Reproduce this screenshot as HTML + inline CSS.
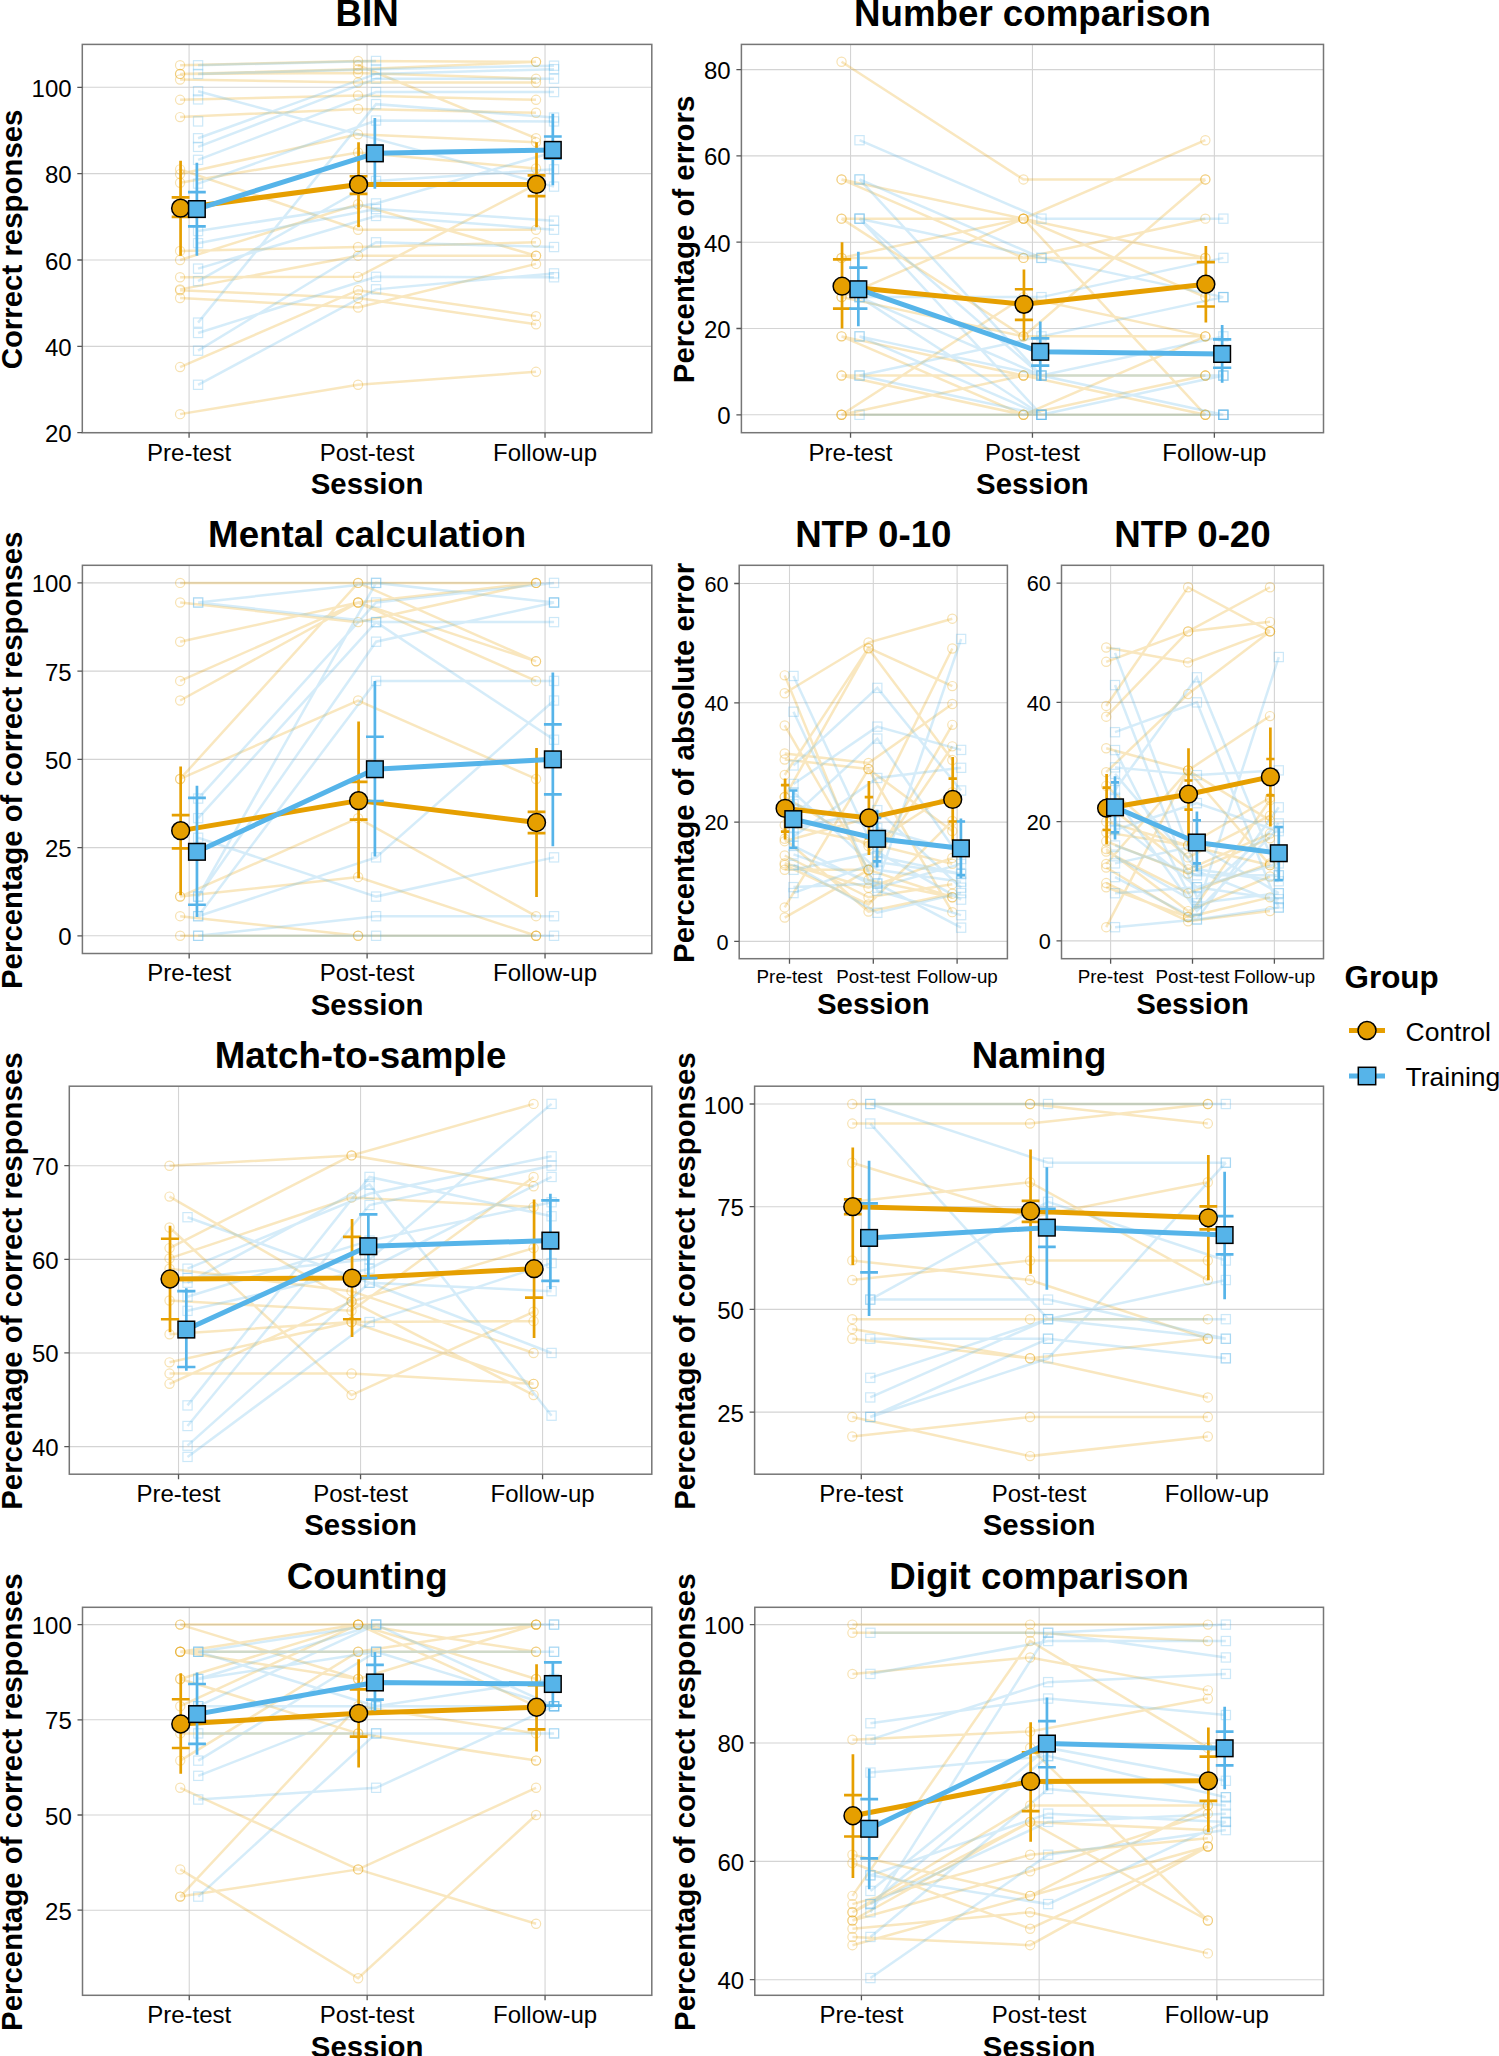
<!DOCTYPE html>
<html><head><meta charset="utf-8"><style>
html,body{margin:0;padding:0;background:#fff;width:1499px;height:2056px;overflow:hidden}
svg{display:block}
text{font-family:"Liberation Sans", sans-serif;fill:#000}
</style></head><body>
<svg width="1499" height="2056" viewBox="0 0 1499 2056">
<rect width="1499" height="2056" fill="#fff"/>
<path d="M82.3 432.7H651.8M82.3 346.35H651.8M82.3 260H651.8M82.3 173.65H651.8M82.3 87.3H651.8M189.08 44.4V432.7M367.05 44.4V432.7M545.02 44.4V432.7" stroke="#D4D4D4" stroke-width="1.1" fill="none"/>
<path d="M180.08 414.13L358.05 384.78L536.02 371.82M180.08 367.07L358.05 290.22L536.02 316.13M180.08 297.99L358.05 307.49L536.02 263.89M180.08 290.22L358.05 297.99L536.02 324.33M180.08 289.36L358.05 255.68L536.02 255.68M180.08 277.27L358.05 276.84L536.02 184.44M180.08 260L358.05 204.3L536.02 255.68M180.08 250.93L358.05 247.05L536.02 242.3M180.08 182.72L358.05 152.49L536.02 168.47M180.08 174.08L358.05 134.36L536.02 142.13M180.08 169.33L358.05 229.78L536.02 229.78M180.08 117.09L358.05 108.89L536.02 112.77M180.08 99.82L358.05 95.5L536.02 99.82M180.08 79.53L358.05 82.55L536.02 82.55M180.08 73.92L358.05 73.05L536.02 78.66M180.08 73.92L358.05 69.17L536.02 61.83M180.08 65.28L358.05 60.96L536.02 61.83M358.05 65.28L536.02 138.25" stroke="#E69F00" stroke-opacity="0.25" stroke-width="2.5" fill="none"/>
<g fill="none" stroke="#E69F00" stroke-opacity="0.3" stroke-width="1.2"><circle cx="180.08" cy="414.13" r="4.6"/><circle cx="358.05" cy="384.78" r="4.6"/><circle cx="536.02" cy="371.82" r="4.6"/><circle cx="180.08" cy="367.07" r="4.6"/><circle cx="358.05" cy="290.22" r="4.6"/><circle cx="536.02" cy="316.13" r="4.6"/><circle cx="180.08" cy="297.99" r="4.6"/><circle cx="358.05" cy="307.49" r="4.6"/><circle cx="536.02" cy="263.89" r="4.6"/><circle cx="180.08" cy="290.22" r="4.6"/><circle cx="358.05" cy="297.99" r="4.6"/><circle cx="536.02" cy="324.33" r="4.6"/><circle cx="180.08" cy="289.36" r="4.6"/><circle cx="358.05" cy="255.68" r="4.6"/><circle cx="536.02" cy="255.68" r="4.6"/><circle cx="180.08" cy="277.27" r="4.6"/><circle cx="358.05" cy="276.84" r="4.6"/><circle cx="536.02" cy="184.44" r="4.6"/><circle cx="180.08" cy="260" r="4.6"/><circle cx="358.05" cy="204.3" r="4.6"/><circle cx="536.02" cy="255.68" r="4.6"/><circle cx="180.08" cy="250.93" r="4.6"/><circle cx="358.05" cy="247.05" r="4.6"/><circle cx="536.02" cy="242.3" r="4.6"/><circle cx="180.08" cy="182.72" r="4.6"/><circle cx="358.05" cy="152.49" r="4.6"/><circle cx="536.02" cy="168.47" r="4.6"/><circle cx="180.08" cy="174.08" r="4.6"/><circle cx="358.05" cy="134.36" r="4.6"/><circle cx="536.02" cy="142.13" r="4.6"/><circle cx="180.08" cy="169.33" r="4.6"/><circle cx="358.05" cy="229.78" r="4.6"/><circle cx="536.02" cy="229.78" r="4.6"/><circle cx="180.08" cy="117.09" r="4.6"/><circle cx="358.05" cy="108.89" r="4.6"/><circle cx="536.02" cy="112.77" r="4.6"/><circle cx="180.08" cy="99.82" r="4.6"/><circle cx="358.05" cy="95.5" r="4.6"/><circle cx="536.02" cy="99.82" r="4.6"/><circle cx="180.08" cy="79.53" r="4.6"/><circle cx="358.05" cy="82.55" r="4.6"/><circle cx="536.02" cy="82.55" r="4.6"/><circle cx="180.08" cy="73.92" r="4.6"/><circle cx="358.05" cy="73.05" r="4.6"/><circle cx="536.02" cy="78.66" r="4.6"/><circle cx="180.08" cy="73.92" r="4.6"/><circle cx="358.05" cy="69.17" r="4.6"/><circle cx="536.02" cy="61.83" r="4.6"/><circle cx="180.08" cy="65.28" r="4.6"/><circle cx="358.05" cy="60.96" r="4.6"/><circle cx="536.02" cy="61.83" r="4.6"/><circle cx="358.05" cy="65.28" r="4.6"/><circle cx="536.02" cy="138.25" r="4.6"/></g>
<path d="M198.08 384.78L376.05 289.36L554.02 273.38M198.08 350.67L376.05 242.3L554.02 247.05M198.08 332.97L376.05 276.84L554.02 277.27M198.08 322.6L376.05 104.14L554.02 117.52M198.08 281.16L376.05 180.99L554.02 169.33M198.08 268.63L376.05 215.96L554.02 229.78M198.08 243.16L376.05 209.05L554.02 220.71M198.08 231.07L376.05 203.44L554.02 152.06M198.08 183.58L376.05 120.54L554.02 121.41M198.08 159.83L376.05 92.05L554.02 92.05M198.08 146.88L376.05 78.66L554.02 78.66M198.08 138.25L376.05 73.92L554.02 69.17M198.08 91.19L554.02 186.6M198.08 73.92L376.05 69.17L554.02 65.71M198.08 65.28L376.05 60.96" stroke="#56B4E9" stroke-opacity="0.25" stroke-width="2.5" fill="none"/>
<g fill="none" stroke="#56B4E9" stroke-opacity="0.3" stroke-width="1.2"><rect x="193.48" y="380.18" width="9.2" height="9.2"/><rect x="371.45" y="284.76" width="9.2" height="9.2"/><rect x="549.42" y="268.78" width="9.2" height="9.2"/><rect x="193.48" y="346.07" width="9.2" height="9.2"/><rect x="371.45" y="237.7" width="9.2" height="9.2"/><rect x="549.42" y="242.45" width="9.2" height="9.2"/><rect x="193.48" y="328.37" width="9.2" height="9.2"/><rect x="371.45" y="272.24" width="9.2" height="9.2"/><rect x="549.42" y="272.67" width="9.2" height="9.2"/><rect x="193.48" y="318" width="9.2" height="9.2"/><rect x="371.45" y="99.54" width="9.2" height="9.2"/><rect x="549.42" y="112.92" width="9.2" height="9.2"/><rect x="193.48" y="276.56" width="9.2" height="9.2"/><rect x="371.45" y="176.39" width="9.2" height="9.2"/><rect x="549.42" y="164.73" width="9.2" height="9.2"/><rect x="193.48" y="264.03" width="9.2" height="9.2"/><rect x="371.45" y="211.36" width="9.2" height="9.2"/><rect x="549.42" y="225.18" width="9.2" height="9.2"/><rect x="193.48" y="238.56" width="9.2" height="9.2"/><rect x="371.45" y="204.45" width="9.2" height="9.2"/><rect x="549.42" y="216.11" width="9.2" height="9.2"/><rect x="193.48" y="226.47" width="9.2" height="9.2"/><rect x="371.45" y="198.84" width="9.2" height="9.2"/><rect x="549.42" y="147.46" width="9.2" height="9.2"/><rect x="193.48" y="178.98" width="9.2" height="9.2"/><rect x="371.45" y="115.94" width="9.2" height="9.2"/><rect x="549.42" y="116.81" width="9.2" height="9.2"/><rect x="193.48" y="155.23" width="9.2" height="9.2"/><rect x="371.45" y="87.45" width="9.2" height="9.2"/><rect x="549.42" y="87.45" width="9.2" height="9.2"/><rect x="193.48" y="142.28" width="9.2" height="9.2"/><rect x="371.45" y="74.06" width="9.2" height="9.2"/><rect x="549.42" y="74.06" width="9.2" height="9.2"/><rect x="193.48" y="133.65" width="9.2" height="9.2"/><rect x="371.45" y="69.32" width="9.2" height="9.2"/><rect x="549.42" y="64.57" width="9.2" height="9.2"/><rect x="193.48" y="116.81" width="9.2" height="9.2"/><rect x="193.48" y="94.79" width="9.2" height="9.2"/><rect x="193.48" y="86.59" width="9.2" height="9.2"/><rect x="549.42" y="182" width="9.2" height="9.2"/><rect x="193.48" y="69.32" width="9.2" height="9.2"/><rect x="371.45" y="64.57" width="9.2" height="9.2"/><rect x="549.42" y="61.11" width="9.2" height="9.2"/><rect x="193.48" y="60.68" width="9.2" height="9.2"/><rect x="371.45" y="56.36" width="9.2" height="9.2"/></g>
<path d="M180.58 160.7V255.68M171.68 197.4H189.48M171.68 216.82H189.48M358.55 142.13V227.19M349.65 176.24H367.45M349.65 193.94H367.45M536.52 142.13V227.19M527.62 175.38H545.42M527.62 196.1H545.42" stroke="#E69F00" stroke-width="2.7" fill="none"/>
<path d="M180.58 208.19L358.55 184.44L536.52 184.44" stroke="#E69F00" stroke-width="5" fill="none" stroke-linejoin="round"/>
<path d="M196.88 162.86V255.68M187.98 192.22H205.78M187.98 226.32H205.78M374.85 117.95V188.76M365.95 145.59H383.75M365.95 160.7H383.75M552.82 113.64V185.31M543.92 136.52H561.72M543.92 158.54H561.72" stroke="#56B4E9" stroke-width="2.7" fill="none"/>
<path d="M196.88 209.05L374.85 153.36L552.82 149.9" stroke="#56B4E9" stroke-width="5" fill="none" stroke-linejoin="round"/>
<circle cx="180.58" cy="208.19" r="8.9" fill="#E69F00" stroke="#000" stroke-width="1.5"/>
<circle cx="358.55" cy="184.44" r="8.9" fill="#E69F00" stroke="#000" stroke-width="1.5"/>
<circle cx="536.52" cy="184.44" r="8.9" fill="#E69F00" stroke="#000" stroke-width="1.5"/>
<rect x="188.58" y="200.75" width="16.6" height="16.6" fill="#56B4E9" stroke="#000" stroke-width="1.5"/>
<rect x="366.55" y="145.06" width="16.6" height="16.6" fill="#56B4E9" stroke="#000" stroke-width="1.5"/>
<rect x="544.52" y="141.6" width="16.6" height="16.6" fill="#56B4E9" stroke="#000" stroke-width="1.5"/>
<rect x="82.3" y="44.4" width="569.5" height="388.3" fill="none" stroke="#767676" stroke-width="1.5"/>
<path d="M77.3 432.7H82.3M77.3 346.35H82.3M77.3 260H82.3M77.3 173.65H82.3M77.3 87.3H82.3M189.08 432.7V437.7M367.05 432.7V437.7M545.02 432.7V437.7" stroke="#555" stroke-width="1.3"/>
<text x="71.6" y="442.2" text-anchor="end" font-size="24">20</text>
<text x="71.6" y="355.85" text-anchor="end" font-size="24">40</text>
<text x="71.6" y="269.5" text-anchor="end" font-size="24">60</text>
<text x="71.6" y="183.15" text-anchor="end" font-size="24">80</text>
<text x="71.6" y="96.8" text-anchor="end" font-size="24">100</text>
<text x="189.08" y="460.5" text-anchor="middle" font-size="24">Pre-test</text>
<text x="367.05" y="460.5" text-anchor="middle" font-size="24">Post-test</text>
<text x="545.02" y="460.5" text-anchor="middle" font-size="24">Follow-up</text>
<text x="367.05" y="493.9" text-anchor="middle" font-size="29.4" font-weight="bold">Session</text>
<text x="367.05" y="26" text-anchor="middle" font-size="36.7" font-weight="bold">BIN</text>
<text transform="translate(21.7 239.45) rotate(-90)" text-anchor="middle" font-size="29.4" font-weight="bold">Correct responses</text>
<path d="M741.4 414.8H1323.5M741.4 328.5H1323.5M741.4 242.2H1323.5M741.4 155.9H1323.5M741.4 69.6H1323.5M850.54 44.4V432.7M1032.45 44.4V432.7M1214.36 44.4V432.7" stroke="#D4D4D4" stroke-width="1.1" fill="none"/>
<path d="M841.54 61.75L1023.45 179.44L1205.36 179.44M841.54 179.44L1023.45 218.66L1205.36 140.21M841.54 179.44L1023.45 257.89L1205.36 218.66M841.54 218.66L1023.45 218.66L1205.36 257.89M841.54 218.66L1023.45 336.35L1205.36 179.44M841.54 257.89L1023.45 257.89L1205.36 257.89M841.54 257.89L1023.45 218.66L1205.36 297.12M841.54 297.12L1023.45 218.66L1205.36 414.8M841.54 297.12L1023.45 336.35L1205.36 336.35M841.54 336.35L1023.45 414.8L1205.36 336.35M841.54 336.35L1023.45 375.57L1205.36 375.57M841.54 375.57L1023.45 375.57L1205.36 375.57M841.54 375.57L1023.45 414.8L1205.36 375.57M841.54 414.8L1023.45 297.12L1205.36 336.35M841.54 414.8L1023.45 375.57L1205.36 414.8M841.54 414.8L1023.45 414.8L1205.36 414.8" stroke="#E69F00" stroke-opacity="0.25" stroke-width="2.5" fill="none"/>
<g fill="none" stroke="#E69F00" stroke-opacity="0.3" stroke-width="1.2"><circle cx="841.54" cy="61.75" r="4.6"/><circle cx="1023.45" cy="179.44" r="4.6"/><circle cx="1205.36" cy="179.44" r="4.6"/><circle cx="841.54" cy="179.44" r="4.6"/><circle cx="1023.45" cy="218.66" r="4.6"/><circle cx="1205.36" cy="140.21" r="4.6"/><circle cx="841.54" cy="179.44" r="4.6"/><circle cx="1023.45" cy="257.89" r="4.6"/><circle cx="1205.36" cy="218.66" r="4.6"/><circle cx="841.54" cy="218.66" r="4.6"/><circle cx="1023.45" cy="218.66" r="4.6"/><circle cx="1205.36" cy="257.89" r="4.6"/><circle cx="841.54" cy="218.66" r="4.6"/><circle cx="1023.45" cy="336.35" r="4.6"/><circle cx="1205.36" cy="179.44" r="4.6"/><circle cx="841.54" cy="257.89" r="4.6"/><circle cx="1023.45" cy="257.89" r="4.6"/><circle cx="1205.36" cy="257.89" r="4.6"/><circle cx="841.54" cy="257.89" r="4.6"/><circle cx="1023.45" cy="218.66" r="4.6"/><circle cx="1205.36" cy="297.12" r="4.6"/><circle cx="841.54" cy="297.12" r="4.6"/><circle cx="1023.45" cy="218.66" r="4.6"/><circle cx="1205.36" cy="414.8" r="4.6"/><circle cx="841.54" cy="297.12" r="4.6"/><circle cx="1023.45" cy="336.35" r="4.6"/><circle cx="1205.36" cy="336.35" r="4.6"/><circle cx="841.54" cy="336.35" r="4.6"/><circle cx="1023.45" cy="414.8" r="4.6"/><circle cx="1205.36" cy="336.35" r="4.6"/><circle cx="841.54" cy="336.35" r="4.6"/><circle cx="1023.45" cy="375.57" r="4.6"/><circle cx="1205.36" cy="375.57" r="4.6"/><circle cx="841.54" cy="375.57" r="4.6"/><circle cx="1023.45" cy="375.57" r="4.6"/><circle cx="1205.36" cy="375.57" r="4.6"/><circle cx="841.54" cy="375.57" r="4.6"/><circle cx="1023.45" cy="414.8" r="4.6"/><circle cx="1205.36" cy="375.57" r="4.6"/><circle cx="841.54" cy="414.8" r="4.6"/><circle cx="1023.45" cy="297.12" r="4.6"/><circle cx="1205.36" cy="336.35" r="4.6"/><circle cx="841.54" cy="414.8" r="4.6"/><circle cx="1023.45" cy="375.57" r="4.6"/><circle cx="1205.36" cy="414.8" r="4.6"/><circle cx="841.54" cy="414.8" r="4.6"/><circle cx="1023.45" cy="414.8" r="4.6"/><circle cx="1205.36" cy="414.8" r="4.6"/></g>
<path d="M859.54 140.21L1041.45 218.66L1223.36 218.66M859.54 179.44L1041.45 257.89L1223.36 297.12M859.54 179.44L1041.45 375.57L1223.36 375.57M859.54 218.66L1041.45 257.89L1223.36 297.12M859.54 218.66L1041.45 375.57L1223.36 414.8M859.54 218.66L1041.45 414.8L1223.36 414.8M859.54 297.12L1041.45 414.8L1223.36 414.8M859.54 297.12L1041.45 375.57L1223.36 375.57M859.54 297.12L1041.45 297.12L1223.36 257.89M859.54 336.35L1041.45 375.57L1223.36 336.35M859.54 336.35L1041.45 414.8L1223.36 414.8M859.54 375.57L1041.45 336.35L1223.36 297.12M859.54 375.57L1041.45 414.8L1223.36 375.57M859.54 414.8L1041.45 414.8L1223.36 414.8" stroke="#56B4E9" stroke-opacity="0.25" stroke-width="2.5" fill="none"/>
<g fill="none" stroke="#56B4E9" stroke-opacity="0.3" stroke-width="1.2"><rect x="854.94" y="135.61" width="9.2" height="9.2"/><rect x="1036.85" y="214.06" width="9.2" height="9.2"/><rect x="1218.76" y="214.06" width="9.2" height="9.2"/><rect x="854.94" y="174.84" width="9.2" height="9.2"/><rect x="1036.85" y="253.29" width="9.2" height="9.2"/><rect x="1218.76" y="292.52" width="9.2" height="9.2"/><rect x="854.94" y="174.84" width="9.2" height="9.2"/><rect x="1036.85" y="370.97" width="9.2" height="9.2"/><rect x="1218.76" y="370.97" width="9.2" height="9.2"/><rect x="854.94" y="214.06" width="9.2" height="9.2"/><rect x="1036.85" y="253.29" width="9.2" height="9.2"/><rect x="1218.76" y="292.52" width="9.2" height="9.2"/><rect x="854.94" y="214.06" width="9.2" height="9.2"/><rect x="1036.85" y="370.97" width="9.2" height="9.2"/><rect x="1218.76" y="410.2" width="9.2" height="9.2"/><rect x="854.94" y="214.06" width="9.2" height="9.2"/><rect x="1036.85" y="410.2" width="9.2" height="9.2"/><rect x="1218.76" y="410.2" width="9.2" height="9.2"/><rect x="854.94" y="292.52" width="9.2" height="9.2"/><rect x="1036.85" y="410.2" width="9.2" height="9.2"/><rect x="1218.76" y="410.2" width="9.2" height="9.2"/><rect x="854.94" y="292.52" width="9.2" height="9.2"/><rect x="1036.85" y="370.97" width="9.2" height="9.2"/><rect x="1218.76" y="370.97" width="9.2" height="9.2"/><rect x="854.94" y="292.52" width="9.2" height="9.2"/><rect x="1036.85" y="292.52" width="9.2" height="9.2"/><rect x="1218.76" y="253.29" width="9.2" height="9.2"/><rect x="854.94" y="331.75" width="9.2" height="9.2"/><rect x="1036.85" y="370.97" width="9.2" height="9.2"/><rect x="1218.76" y="331.75" width="9.2" height="9.2"/><rect x="854.94" y="331.75" width="9.2" height="9.2"/><rect x="1036.85" y="410.2" width="9.2" height="9.2"/><rect x="1218.76" y="410.2" width="9.2" height="9.2"/><rect x="854.94" y="370.97" width="9.2" height="9.2"/><rect x="1036.85" y="331.75" width="9.2" height="9.2"/><rect x="1218.76" y="292.52" width="9.2" height="9.2"/><rect x="854.94" y="370.97" width="9.2" height="9.2"/><rect x="1036.85" y="410.2" width="9.2" height="9.2"/><rect x="1218.76" y="370.97" width="9.2" height="9.2"/><rect x="854.94" y="410.2" width="9.2" height="9.2"/><rect x="1036.85" y="410.2" width="9.2" height="9.2"/><rect x="1218.76" y="410.2" width="9.2" height="9.2"/></g>
<path d="M842.04 242.2V328.5M832.95 259.46H851.14M832.95 308.65H851.14M1023.95 269.38V340.15M1014.85 289.23H1033.05M1014.85 319.87H1033.05M1205.86 246.08V322.46M1196.76 262.05H1214.95M1196.76 306.49H1214.95" stroke="#E69F00" stroke-width="2.7" fill="none"/>
<path d="M842.04 286.21L1023.95 304.34L1205.86 284.27" stroke="#E69F00" stroke-width="5" fill="none" stroke-linejoin="round"/>
<path d="M858.34 251.69V326.34M849.25 267.66H867.44M849.25 308.65H867.44M1040.25 321.6V380.71M1031.15 338.42H1049.35M1031.15 365.61H1049.35M1222.16 325.05V382.87M1213.06 339.29H1231.25M1213.06 367.77H1231.25" stroke="#56B4E9" stroke-width="2.7" fill="none"/>
<path d="M858.34 289.23L1040.25 351.8L1222.16 353.96" stroke="#56B4E9" stroke-width="5" fill="none" stroke-linejoin="round"/>
<circle cx="842.04" cy="286.21" r="8.9" fill="#E69F00" stroke="#000" stroke-width="1.5"/>
<circle cx="1023.95" cy="304.34" r="8.9" fill="#E69F00" stroke="#000" stroke-width="1.5"/>
<circle cx="1205.86" cy="284.27" r="8.9" fill="#E69F00" stroke="#000" stroke-width="1.5"/>
<rect x="850.04" y="280.93" width="16.6" height="16.6" fill="#56B4E9" stroke="#000" stroke-width="1.5"/>
<rect x="1031.95" y="343.5" width="16.6" height="16.6" fill="#56B4E9" stroke="#000" stroke-width="1.5"/>
<rect x="1213.86" y="345.66" width="16.6" height="16.6" fill="#56B4E9" stroke="#000" stroke-width="1.5"/>
<rect x="741.4" y="44.4" width="582.1" height="388.3" fill="none" stroke="#767676" stroke-width="1.5"/>
<path d="M736.4 414.8H741.4M736.4 328.5H741.4M736.4 242.2H741.4M736.4 155.9H741.4M736.4 69.6H741.4M850.54 432.7V437.7M1032.45 432.7V437.7M1214.36 432.7V437.7" stroke="#555" stroke-width="1.3"/>
<text x="730.7" y="424.3" text-anchor="end" font-size="24">0</text>
<text x="730.7" y="338" text-anchor="end" font-size="24">20</text>
<text x="730.7" y="251.7" text-anchor="end" font-size="24">40</text>
<text x="730.7" y="165.4" text-anchor="end" font-size="24">60</text>
<text x="730.7" y="79.1" text-anchor="end" font-size="24">80</text>
<text x="850.54" y="460.5" text-anchor="middle" font-size="24">Pre-test</text>
<text x="1032.45" y="460.5" text-anchor="middle" font-size="24">Post-test</text>
<text x="1214.36" y="460.5" text-anchor="middle" font-size="24">Follow-up</text>
<text x="1032.45" y="493.9" text-anchor="middle" font-size="29.4" font-weight="bold">Session</text>
<text x="1032.45" y="26" text-anchor="middle" font-size="36.7" font-weight="bold">Number comparison</text>
<text transform="translate(694.1 239.45) rotate(-90)" text-anchor="middle" font-size="29.4" font-weight="bold">Percentage of errors</text>
<path d="M82.4 935.8H651.8M82.4 847.58H651.8M82.4 759.35H651.8M82.4 671.12H651.8M82.4 582.9H651.8M189.16 565.3V953.5M367.1 565.3V953.5M545.04 565.3V953.5" stroke="#D4D4D4" stroke-width="1.1" fill="none"/>
<path d="M180.16 582.9L358.1 582.9L536.04 582.9M180.16 602.51L358.1 622.11L536.04 582.9M180.16 641.72L358.1 602.51L536.04 661.32M180.16 680.93L358.1 602.51L536.04 680.93M180.16 700.53L358.1 602.51L536.04 582.9M180.16 778.96L358.1 582.9L536.04 661.32M180.16 778.96L358.1 700.53L536.04 778.96M180.16 896.59L358.1 818.17L536.04 916.19M180.16 896.59L358.1 876.98L536.04 935.8M180.16 916.19L358.1 935.8L536.04 935.8M180.16 935.8L358.1 935.8L536.04 935.8" stroke="#E69F00" stroke-opacity="0.25" stroke-width="2.5" fill="none"/>
<g fill="none" stroke="#E69F00" stroke-opacity="0.3" stroke-width="1.2"><circle cx="180.16" cy="582.9" r="4.6"/><circle cx="358.1" cy="582.9" r="4.6"/><circle cx="536.04" cy="582.9" r="4.6"/><circle cx="180.16" cy="602.51" r="4.6"/><circle cx="358.1" cy="622.11" r="4.6"/><circle cx="536.04" cy="582.9" r="4.6"/><circle cx="180.16" cy="641.72" r="4.6"/><circle cx="358.1" cy="602.51" r="4.6"/><circle cx="536.04" cy="661.32" r="4.6"/><circle cx="180.16" cy="680.93" r="4.6"/><circle cx="358.1" cy="602.51" r="4.6"/><circle cx="536.04" cy="680.93" r="4.6"/><circle cx="180.16" cy="700.53" r="4.6"/><circle cx="358.1" cy="602.51" r="4.6"/><circle cx="536.04" cy="582.9" r="4.6"/><circle cx="180.16" cy="778.96" r="4.6"/><circle cx="358.1" cy="582.9" r="4.6"/><circle cx="536.04" cy="661.32" r="4.6"/><circle cx="180.16" cy="778.96" r="4.6"/><circle cx="358.1" cy="700.53" r="4.6"/><circle cx="536.04" cy="778.96" r="4.6"/><circle cx="180.16" cy="896.59" r="4.6"/><circle cx="358.1" cy="818.17" r="4.6"/><circle cx="536.04" cy="916.19" r="4.6"/><circle cx="180.16" cy="896.59" r="4.6"/><circle cx="358.1" cy="876.98" r="4.6"/><circle cx="536.04" cy="935.8" r="4.6"/><circle cx="180.16" cy="916.19" r="4.6"/><circle cx="358.1" cy="935.8" r="4.6"/><circle cx="536.04" cy="935.8" r="4.6"/><circle cx="180.16" cy="935.8" r="4.6"/><circle cx="358.1" cy="935.8" r="4.6"/><circle cx="536.04" cy="935.8" r="4.6"/></g>
<path d="M198.16 602.51L376.1 582.9L554.04 602.51M198.16 602.51L376.1 622.11L554.04 622.11M198.16 798.56L376.1 602.51L554.04 582.9M198.16 818.17L376.1 622.11L554.04 739.74M198.16 837.77L376.1 896.59L554.04 857.38M198.16 896.59L376.1 641.72L554.04 602.51M198.16 916.19L376.1 680.93L554.04 680.93M198.16 916.19L376.1 857.38L554.04 700.53M198.16 935.8L376.1 916.19L554.04 916.19M198.16 935.8L376.1 935.8L554.04 935.8M198.16 896.59L376.1 582.9L554.04 602.51" stroke="#56B4E9" stroke-opacity="0.25" stroke-width="2.5" fill="none"/>
<g fill="none" stroke="#56B4E9" stroke-opacity="0.3" stroke-width="1.2"><rect x="193.56" y="597.91" width="9.2" height="9.2"/><rect x="371.5" y="578.3" width="9.2" height="9.2"/><rect x="549.44" y="597.91" width="9.2" height="9.2"/><rect x="193.56" y="597.91" width="9.2" height="9.2"/><rect x="371.5" y="617.51" width="9.2" height="9.2"/><rect x="549.44" y="617.51" width="9.2" height="9.2"/><rect x="193.56" y="793.96" width="9.2" height="9.2"/><rect x="371.5" y="597.91" width="9.2" height="9.2"/><rect x="549.44" y="578.3" width="9.2" height="9.2"/><rect x="193.56" y="813.57" width="9.2" height="9.2"/><rect x="371.5" y="617.51" width="9.2" height="9.2"/><rect x="549.44" y="735.14" width="9.2" height="9.2"/><rect x="193.56" y="833.17" width="9.2" height="9.2"/><rect x="371.5" y="891.99" width="9.2" height="9.2"/><rect x="549.44" y="852.78" width="9.2" height="9.2"/><rect x="193.56" y="891.99" width="9.2" height="9.2"/><rect x="371.5" y="637.12" width="9.2" height="9.2"/><rect x="549.44" y="597.91" width="9.2" height="9.2"/><rect x="193.56" y="911.59" width="9.2" height="9.2"/><rect x="371.5" y="676.33" width="9.2" height="9.2"/><rect x="549.44" y="676.33" width="9.2" height="9.2"/><rect x="193.56" y="911.59" width="9.2" height="9.2"/><rect x="371.5" y="852.78" width="9.2" height="9.2"/><rect x="549.44" y="695.93" width="9.2" height="9.2"/><rect x="193.56" y="931.2" width="9.2" height="9.2"/><rect x="371.5" y="911.59" width="9.2" height="9.2"/><rect x="549.44" y="911.59" width="9.2" height="9.2"/><rect x="193.56" y="931.2" width="9.2" height="9.2"/><rect x="371.5" y="931.2" width="9.2" height="9.2"/><rect x="549.44" y="931.2" width="9.2" height="9.2"/><rect x="193.56" y="891.99" width="9.2" height="9.2"/><rect x="371.5" y="578.3" width="9.2" height="9.2"/><rect x="549.44" y="597.91" width="9.2" height="9.2"/></g>
<path d="M180.66 766.41V895.22M171.77 815.11H189.56M171.77 848.28H189.56M358.6 721.59V878.28M349.7 781.94H367.5M349.7 819.7H367.5M536.54 748.06V896.98M527.64 811.93H545.43M527.64 833.11H545.43" stroke="#E69F00" stroke-width="2.7" fill="none"/>
<path d="M180.66 830.64L358.6 800.64L536.54 822.52" stroke="#E69F00" stroke-width="5" fill="none" stroke-linejoin="round"/>
<path d="M196.96 785.82V917.1M188.07 797.82H205.86M188.07 904.74H205.86M374.9 681.01V856.4M366 736.76H383.8M366 800.99H383.8M552.84 672.54V846.16M543.94 724.41H561.73M543.94 794.29H561.73" stroke="#56B4E9" stroke-width="2.7" fill="none"/>
<path d="M196.96 851.81L374.9 769.23L552.84 759.35" stroke="#56B4E9" stroke-width="5" fill="none" stroke-linejoin="round"/>
<circle cx="180.66" cy="830.64" r="8.9" fill="#E69F00" stroke="#000" stroke-width="1.5"/>
<circle cx="358.6" cy="800.64" r="8.9" fill="#E69F00" stroke="#000" stroke-width="1.5"/>
<circle cx="536.54" cy="822.52" r="8.9" fill="#E69F00" stroke="#000" stroke-width="1.5"/>
<rect x="188.66" y="843.51" width="16.6" height="16.6" fill="#56B4E9" stroke="#000" stroke-width="1.5"/>
<rect x="366.6" y="760.93" width="16.6" height="16.6" fill="#56B4E9" stroke="#000" stroke-width="1.5"/>
<rect x="544.54" y="751.05" width="16.6" height="16.6" fill="#56B4E9" stroke="#000" stroke-width="1.5"/>
<rect x="82.4" y="565.3" width="569.4" height="388.2" fill="none" stroke="#767676" stroke-width="1.5"/>
<path d="M77.4 935.8H82.4M77.4 847.58H82.4M77.4 759.35H82.4M77.4 671.12H82.4M77.4 582.9H82.4M189.16 953.5V958.5M367.1 953.5V958.5M545.04 953.5V958.5" stroke="#555" stroke-width="1.3"/>
<text x="71.7" y="945.3" text-anchor="end" font-size="24">0</text>
<text x="71.7" y="857.08" text-anchor="end" font-size="24">25</text>
<text x="71.7" y="768.85" text-anchor="end" font-size="24">50</text>
<text x="71.7" y="680.62" text-anchor="end" font-size="24">75</text>
<text x="71.7" y="592.4" text-anchor="end" font-size="24">100</text>
<text x="189.16" y="981.3" text-anchor="middle" font-size="24">Pre-test</text>
<text x="367.1" y="981.3" text-anchor="middle" font-size="24">Post-test</text>
<text x="545.04" y="981.3" text-anchor="middle" font-size="24">Follow-up</text>
<text x="367.1" y="1014.7" text-anchor="middle" font-size="29.4" font-weight="bold">Session</text>
<text x="367.1" y="546.9" text-anchor="middle" font-size="36.7" font-weight="bold">Mental calculation</text>
<text transform="translate(21.7 760.3) rotate(-90)" text-anchor="middle" font-size="29.4" font-weight="bold">Percentage of correct responses</text>
<path d="M739.2 941.4H1007.4M739.2 822.1H1007.4M739.2 702.8H1007.4M739.2 583.5H1007.4M789.49 565.3V958.7M873.3 565.3V958.7M957.11 565.3V958.7" stroke="#D4D4D4" stroke-width="1.1" fill="none"/>
<path d="M784.69 675.36L868.5 879.96L952.31 897.26M784.69 693.26L868.5 642.55L952.31 618.69M784.69 725.47L868.5 869.82L952.31 724.87M784.69 753.5L868.5 763.05L952.31 703.99M784.69 759.47L868.5 769.01L952.31 831.05M784.69 774.98L868.5 647.92L952.31 686.1M784.69 797.05L868.5 648.52L952.31 760.06M784.69 841.19L868.5 817.92L952.31 648.52M784.69 855.5L868.5 897.26L952.31 884.14M784.69 865.05L868.5 904.42L952.31 820.91M784.69 869.82L868.5 869.82L952.31 746.34M784.69 907.4L868.5 769.01L952.31 912.17M784.69 917.54L868.5 869.82L952.31 897.26M784.69 825.08L868.5 842.98L952.31 863.86M784.69 863.26L868.5 887.71L952.31 857.89M784.69 838.8L868.5 911.58L952.31 893.68M784.69 797.05L868.5 845.96L952.31 792.27" stroke="#E69F00" stroke-opacity="0.25" stroke-width="2.5" fill="none"/>
<g fill="none" stroke="#E69F00" stroke-opacity="0.3" stroke-width="1.2"><circle cx="784.69" cy="675.36" r="4.6"/><circle cx="868.5" cy="879.96" r="4.6"/><circle cx="952.31" cy="897.26" r="4.6"/><circle cx="784.69" cy="693.26" r="4.6"/><circle cx="868.5" cy="642.55" r="4.6"/><circle cx="952.31" cy="618.69" r="4.6"/><circle cx="784.69" cy="725.47" r="4.6"/><circle cx="868.5" cy="869.82" r="4.6"/><circle cx="952.31" cy="724.87" r="4.6"/><circle cx="784.69" cy="753.5" r="4.6"/><circle cx="868.5" cy="763.05" r="4.6"/><circle cx="952.31" cy="703.99" r="4.6"/><circle cx="784.69" cy="759.47" r="4.6"/><circle cx="868.5" cy="769.01" r="4.6"/><circle cx="952.31" cy="831.05" r="4.6"/><circle cx="784.69" cy="774.98" r="4.6"/><circle cx="868.5" cy="647.92" r="4.6"/><circle cx="952.31" cy="686.1" r="4.6"/><circle cx="784.69" cy="797.05" r="4.6"/><circle cx="868.5" cy="648.52" r="4.6"/><circle cx="952.31" cy="760.06" r="4.6"/><circle cx="784.69" cy="841.19" r="4.6"/><circle cx="868.5" cy="817.92" r="4.6"/><circle cx="952.31" cy="648.52" r="4.6"/><circle cx="784.69" cy="855.5" r="4.6"/><circle cx="868.5" cy="897.26" r="4.6"/><circle cx="952.31" cy="884.14" r="4.6"/><circle cx="784.69" cy="865.05" r="4.6"/><circle cx="868.5" cy="904.42" r="4.6"/><circle cx="952.31" cy="820.91" r="4.6"/><circle cx="784.69" cy="869.82" r="4.6"/><circle cx="868.5" cy="869.82" r="4.6"/><circle cx="952.31" cy="746.34" r="4.6"/><circle cx="784.69" cy="907.4" r="4.6"/><circle cx="868.5" cy="769.01" r="4.6"/><circle cx="952.31" cy="912.17" r="4.6"/><circle cx="784.69" cy="917.54" r="4.6"/><circle cx="868.5" cy="869.82" r="4.6"/><circle cx="952.31" cy="897.26" r="4.6"/><circle cx="784.69" cy="825.08" r="4.6"/><circle cx="868.5" cy="842.98" r="4.6"/><circle cx="952.31" cy="863.86" r="4.6"/><circle cx="784.69" cy="863.26" r="4.6"/><circle cx="868.5" cy="887.71" r="4.6"/><circle cx="952.31" cy="857.89" r="4.6"/><circle cx="784.69" cy="838.8" r="4.6"/><circle cx="868.5" cy="911.58" r="4.6"/><circle cx="952.31" cy="893.68" r="4.6"/><circle cx="784.69" cy="797.05" r="4.6"/><circle cx="868.5" cy="845.96" r="4.6"/><circle cx="952.31" cy="792.27" r="4.6"/></g>
<path d="M793.49 675.96L877.3 856.1L961.11 874M793.49 711.75L877.3 890.7L961.11 915.15M793.49 765.43L877.3 687.89L961.11 790.49M793.49 783.92L877.3 726.66L961.11 749.92M793.49 816.13L877.3 738.59L961.11 859.08M793.49 836.42L877.3 777.96L961.11 767.82M793.49 854.31L877.3 883.54L961.11 638.97M793.49 865.05L877.3 912.77L961.11 893.08M793.49 887.12L877.3 883.54L961.11 927.68M793.49 893.08L877.3 862.07L961.11 874M793.49 804.2L877.3 828.07L961.11 851.92M793.49 792.27L877.3 869.82L961.11 881.75M793.49 845.96L877.3 887.71L961.11 863.86M793.49 869.82L877.3 851.92L961.11 899.64M793.49 828.07L877.3 810.17L961.11 887.71" stroke="#56B4E9" stroke-opacity="0.25" stroke-width="2.5" fill="none"/>
<g fill="none" stroke="#56B4E9" stroke-opacity="0.3" stroke-width="1.2"><rect x="788.89" y="671.36" width="9.2" height="9.2"/><rect x="872.7" y="851.5" width="9.2" height="9.2"/><rect x="956.51" y="869.4" width="9.2" height="9.2"/><rect x="788.89" y="707.15" width="9.2" height="9.2"/><rect x="872.7" y="886.1" width="9.2" height="9.2"/><rect x="956.51" y="910.55" width="9.2" height="9.2"/><rect x="788.89" y="760.83" width="9.2" height="9.2"/><rect x="872.7" y="683.29" width="9.2" height="9.2"/><rect x="956.51" y="785.89" width="9.2" height="9.2"/><rect x="788.89" y="779.32" width="9.2" height="9.2"/><rect x="872.7" y="722.06" width="9.2" height="9.2"/><rect x="956.51" y="745.32" width="9.2" height="9.2"/><rect x="788.89" y="811.53" width="9.2" height="9.2"/><rect x="872.7" y="733.99" width="9.2" height="9.2"/><rect x="956.51" y="854.48" width="9.2" height="9.2"/><rect x="788.89" y="831.82" width="9.2" height="9.2"/><rect x="872.7" y="773.36" width="9.2" height="9.2"/><rect x="956.51" y="763.22" width="9.2" height="9.2"/><rect x="788.89" y="849.71" width="9.2" height="9.2"/><rect x="872.7" y="878.94" width="9.2" height="9.2"/><rect x="956.51" y="634.37" width="9.2" height="9.2"/><rect x="788.89" y="860.45" width="9.2" height="9.2"/><rect x="872.7" y="908.17" width="9.2" height="9.2"/><rect x="956.51" y="888.48" width="9.2" height="9.2"/><rect x="788.89" y="882.52" width="9.2" height="9.2"/><rect x="872.7" y="878.94" width="9.2" height="9.2"/><rect x="956.51" y="923.08" width="9.2" height="9.2"/><rect x="788.89" y="888.48" width="9.2" height="9.2"/><rect x="872.7" y="857.47" width="9.2" height="9.2"/><rect x="956.51" y="869.4" width="9.2" height="9.2"/><rect x="788.89" y="799.6" width="9.2" height="9.2"/><rect x="872.7" y="823.47" width="9.2" height="9.2"/><rect x="956.51" y="847.32" width="9.2" height="9.2"/><rect x="788.89" y="787.67" width="9.2" height="9.2"/><rect x="872.7" y="865.22" width="9.2" height="9.2"/><rect x="956.51" y="877.15" width="9.2" height="9.2"/><rect x="788.89" y="841.36" width="9.2" height="9.2"/><rect x="872.7" y="883.11" width="9.2" height="9.2"/><rect x="956.51" y="859.25" width="9.2" height="9.2"/><rect x="788.89" y="865.22" width="9.2" height="9.2"/><rect x="872.7" y="847.32" width="9.2" height="9.2"/><rect x="956.51" y="895.04" width="9.2" height="9.2"/><rect x="788.89" y="823.47" width="9.2" height="9.2"/><rect x="872.7" y="805.57" width="9.2" height="9.2"/><rect x="956.51" y="883.11" width="9.2" height="9.2"/></g>
<path d="M785.09 778.56V839.4M780.9 785.12H789.28M780.9 831.64H789.28M868.9 780.94V854.91M864.71 797.05H873.09M864.71 838.21H873.09M952.71 757.08V840.59M948.52 778.56H956.9M948.52 821.5H956.9" stroke="#E69F00" stroke-width="2.7" fill="none"/>
<path d="M785.09 808.38L868.9 817.92L952.71 799.43" stroke="#E69F00" stroke-width="5" fill="none" stroke-linejoin="round"/>
<path d="M793.29 790.49V847.75M789.1 790.49H797.48M789.1 847.75H797.48M877.1 810.17V867.43M872.91 817.92H881.29M872.91 861.47H881.29M960.91 818.52V878.17M956.72 821.5H965.1M956.72 875.19H965.1" stroke="#56B4E9" stroke-width="2.7" fill="none"/>
<path d="M793.29 819.12L877.1 838.8L960.91 848.35" stroke="#56B4E9" stroke-width="5" fill="none" stroke-linejoin="round"/>
<circle cx="785.09" cy="808.38" r="8.9" fill="#E69F00" stroke="#000" stroke-width="1.5"/>
<circle cx="868.9" cy="817.92" r="8.9" fill="#E69F00" stroke="#000" stroke-width="1.5"/>
<circle cx="952.71" cy="799.43" r="8.9" fill="#E69F00" stroke="#000" stroke-width="1.5"/>
<rect x="784.99" y="810.82" width="16.6" height="16.6" fill="#56B4E9" stroke="#000" stroke-width="1.5"/>
<rect x="868.8" y="830.5" width="16.6" height="16.6" fill="#56B4E9" stroke="#000" stroke-width="1.5"/>
<rect x="952.61" y="840.05" width="16.6" height="16.6" fill="#56B4E9" stroke="#000" stroke-width="1.5"/>
<rect x="739.2" y="565.3" width="268.2" height="393.4" fill="none" stroke="#767676" stroke-width="1.5"/>
<path d="M734.2 941.4H739.2M734.2 822.1H739.2M734.2 702.8H739.2M734.2 583.5H739.2M789.49 958.7V963.7M873.3 958.7V963.7M957.11 958.7V963.7" stroke="#555" stroke-width="1.3"/>
<text x="728.5" y="949.7" text-anchor="end" font-size="21.7">0</text>
<text x="728.5" y="830.4" text-anchor="end" font-size="21.7">20</text>
<text x="728.5" y="711.1" text-anchor="end" font-size="21.7">40</text>
<text x="728.5" y="591.8" text-anchor="end" font-size="21.7">60</text>
<text x="789.49" y="983" text-anchor="middle" font-size="18.8">Pre-test</text>
<text x="873.3" y="983" text-anchor="middle" font-size="18.8">Post-test</text>
<text x="957.11" y="983" text-anchor="middle" font-size="18.8">Follow-up</text>
<text x="873.3" y="1013.9" text-anchor="middle" font-size="29.4" font-weight="bold">Session</text>
<text x="873.3" y="546.9" text-anchor="middle" font-size="36.7" font-weight="bold">NTP 0-10</text>
<text transform="translate(694.1 762.9) rotate(-90)" text-anchor="middle" font-size="29.4" font-weight="bold">Percentage of absolute error</text>
<path d="M1061.5 940.9H1323.5M1061.5 821.63H1323.5M1061.5 702.37H1323.5M1061.5 583.1H1323.5M1110.62 565.3V958.7M1192.5 565.3V958.7M1274.38 565.3V958.7" stroke="#D4D4D4" stroke-width="1.1" fill="none"/>
<path d="M1106.22 647.5L1188.1 662.41L1269.97 631.4M1106.22 661.82L1188.1 631.4L1269.97 587.27M1106.22 705.94L1188.1 587.27L1269.97 631.4M1106.22 716.68L1188.1 631.4L1269.97 621.86M1106.22 748.28L1188.1 770.35L1269.97 820.44M1106.22 772.14L1188.1 694.02L1269.97 631.4M1106.22 832.37L1188.1 845.49L1269.97 865.17M1106.22 841.31L1188.1 873.51L1269.97 838.33M1106.22 849.06L1188.1 911.08L1269.97 876.5M1106.22 863.97L1188.1 770.35L1269.97 716.08M1106.22 867.55L1188.1 917.05L1269.97 897.37M1106.22 883.06L1188.1 921.22L1269.97 911.08M1106.22 887.23L1188.1 917.05L1269.97 800.17M1106.22 927.18L1188.1 770.35L1269.97 865.17M1106.22 821.63L1188.1 845.49L1269.97 797.78M1106.22 803.74L1188.1 869.34L1269.97 833.56M1106.22 851.45L1188.1 893.19L1269.97 863.38M1106.22 785.85L1188.1 857.41L1269.97 815.67" stroke="#E69F00" stroke-opacity="0.25" stroke-width="2.5" fill="none"/>
<g fill="none" stroke="#E69F00" stroke-opacity="0.3" stroke-width="1.2"><circle cx="1106.22" cy="647.5" r="4.6"/><circle cx="1188.1" cy="662.41" r="4.6"/><circle cx="1269.97" cy="631.4" r="4.6"/><circle cx="1106.22" cy="661.82" r="4.6"/><circle cx="1188.1" cy="631.4" r="4.6"/><circle cx="1269.97" cy="587.27" r="4.6"/><circle cx="1106.22" cy="705.94" r="4.6"/><circle cx="1188.1" cy="587.27" r="4.6"/><circle cx="1269.97" cy="631.4" r="4.6"/><circle cx="1106.22" cy="716.68" r="4.6"/><circle cx="1188.1" cy="631.4" r="4.6"/><circle cx="1269.97" cy="621.86" r="4.6"/><circle cx="1106.22" cy="748.28" r="4.6"/><circle cx="1188.1" cy="770.35" r="4.6"/><circle cx="1269.97" cy="820.44" r="4.6"/><circle cx="1106.22" cy="772.14" r="4.6"/><circle cx="1188.1" cy="694.02" r="4.6"/><circle cx="1269.97" cy="631.4" r="4.6"/><circle cx="1106.22" cy="832.37" r="4.6"/><circle cx="1188.1" cy="845.49" r="4.6"/><circle cx="1269.97" cy="865.17" r="4.6"/><circle cx="1106.22" cy="841.31" r="4.6"/><circle cx="1188.1" cy="873.51" r="4.6"/><circle cx="1269.97" cy="838.33" r="4.6"/><circle cx="1106.22" cy="849.06" r="4.6"/><circle cx="1188.1" cy="911.08" r="4.6"/><circle cx="1269.97" cy="876.5" r="4.6"/><circle cx="1106.22" cy="863.97" r="4.6"/><circle cx="1188.1" cy="770.35" r="4.6"/><circle cx="1269.97" cy="716.08" r="4.6"/><circle cx="1106.22" cy="867.55" r="4.6"/><circle cx="1188.1" cy="917.05" r="4.6"/><circle cx="1269.97" cy="897.37" r="4.6"/><circle cx="1106.22" cy="883.06" r="4.6"/><circle cx="1188.1" cy="921.22" r="4.6"/><circle cx="1269.97" cy="911.08" r="4.6"/><circle cx="1106.22" cy="887.23" r="4.6"/><circle cx="1188.1" cy="917.05" r="4.6"/><circle cx="1269.97" cy="800.17" r="4.6"/><circle cx="1106.22" cy="927.18" r="4.6"/><circle cx="1188.1" cy="770.35" r="4.6"/><circle cx="1269.97" cy="865.17" r="4.6"/><circle cx="1106.22" cy="821.63" r="4.6"/><circle cx="1188.1" cy="845.49" r="4.6"/><circle cx="1269.97" cy="797.78" r="4.6"/><circle cx="1106.22" cy="803.74" r="4.6"/><circle cx="1188.1" cy="869.34" r="4.6"/><circle cx="1269.97" cy="833.56" r="4.6"/><circle cx="1106.22" cy="851.45" r="4.6"/><circle cx="1188.1" cy="893.19" r="4.6"/><circle cx="1269.97" cy="863.38" r="4.6"/><circle cx="1106.22" cy="785.85" r="4.6"/><circle cx="1188.1" cy="857.41" r="4.6"/><circle cx="1269.97" cy="815.67" r="4.6"/></g>
<path d="M1115.03 652.87L1196.9 871.13L1278.78 903.33M1115.03 685.07L1196.9 897.37L1278.78 823.42M1115.03 732.18L1196.9 702.37L1278.78 907.51M1115.03 750.07L1196.9 909.29L1278.78 657.05M1115.03 767.37L1196.9 775.12L1278.78 770.35M1115.03 790.03L1196.9 677.32L1278.78 875.3M1115.03 829.98L1196.9 803.15L1278.78 831.17M1115.03 856.22L1196.9 903.33L1278.78 893.19M1115.03 877.09L1196.9 919.43L1278.78 807.32M1115.03 927.18L1196.9 919.43L1278.78 907.51M1115.03 773.93L1196.9 869.34L1278.78 881.27M1115.03 821.63L1196.9 887.23L1278.78 863.38M1115.03 863.38L1196.9 845.49L1278.78 893.19M1115.03 797.78L1196.9 911.08L1278.78 827.6M1115.03 845.49L1196.9 875.3L1278.78 875.3M1115.03 893.19L1196.9 887.23L1278.78 899.16" stroke="#56B4E9" stroke-opacity="0.25" stroke-width="2.5" fill="none"/>
<g fill="none" stroke="#56B4E9" stroke-opacity="0.3" stroke-width="1.2"><rect x="1110.43" y="648.27" width="9.2" height="9.2"/><rect x="1192.3" y="866.53" width="9.2" height="9.2"/><rect x="1274.18" y="898.73" width="9.2" height="9.2"/><rect x="1110.43" y="680.47" width="9.2" height="9.2"/><rect x="1192.3" y="892.77" width="9.2" height="9.2"/><rect x="1274.18" y="818.82" width="9.2" height="9.2"/><rect x="1110.43" y="727.58" width="9.2" height="9.2"/><rect x="1192.3" y="697.77" width="9.2" height="9.2"/><rect x="1274.18" y="902.91" width="9.2" height="9.2"/><rect x="1110.43" y="745.47" width="9.2" height="9.2"/><rect x="1192.3" y="904.69" width="9.2" height="9.2"/><rect x="1274.18" y="652.45" width="9.2" height="9.2"/><rect x="1110.43" y="762.77" width="9.2" height="9.2"/><rect x="1192.3" y="770.52" width="9.2" height="9.2"/><rect x="1274.18" y="765.75" width="9.2" height="9.2"/><rect x="1110.43" y="785.43" width="9.2" height="9.2"/><rect x="1192.3" y="672.72" width="9.2" height="9.2"/><rect x="1274.18" y="870.7" width="9.2" height="9.2"/><rect x="1110.43" y="825.38" width="9.2" height="9.2"/><rect x="1192.3" y="798.55" width="9.2" height="9.2"/><rect x="1274.18" y="826.57" width="9.2" height="9.2"/><rect x="1110.43" y="851.62" width="9.2" height="9.2"/><rect x="1192.3" y="898.73" width="9.2" height="9.2"/><rect x="1274.18" y="888.59" width="9.2" height="9.2"/><rect x="1110.43" y="872.49" width="9.2" height="9.2"/><rect x="1192.3" y="914.83" width="9.2" height="9.2"/><rect x="1274.18" y="802.72" width="9.2" height="9.2"/><rect x="1110.43" y="922.58" width="9.2" height="9.2"/><rect x="1192.3" y="914.83" width="9.2" height="9.2"/><rect x="1274.18" y="902.91" width="9.2" height="9.2"/><rect x="1110.43" y="769.33" width="9.2" height="9.2"/><rect x="1192.3" y="864.74" width="9.2" height="9.2"/><rect x="1274.18" y="876.67" width="9.2" height="9.2"/><rect x="1110.43" y="817.03" width="9.2" height="9.2"/><rect x="1192.3" y="882.63" width="9.2" height="9.2"/><rect x="1274.18" y="858.78" width="9.2" height="9.2"/><rect x="1110.43" y="858.78" width="9.2" height="9.2"/><rect x="1192.3" y="840.89" width="9.2" height="9.2"/><rect x="1274.18" y="888.59" width="9.2" height="9.2"/><rect x="1110.43" y="793.18" width="9.2" height="9.2"/><rect x="1192.3" y="906.48" width="9.2" height="9.2"/><rect x="1274.18" y="823" width="9.2" height="9.2"/><rect x="1110.43" y="840.89" width="9.2" height="9.2"/><rect x="1192.3" y="870.7" width="9.2" height="9.2"/><rect x="1274.18" y="870.7" width="9.2" height="9.2"/><rect x="1110.43" y="888.59" width="9.2" height="9.2"/><rect x="1192.3" y="882.63" width="9.2" height="9.2"/><rect x="1274.18" y="894.56" width="9.2" height="9.2"/></g>
<path d="M1106.62 773.93V844.29M1102.53 787.64H1110.72M1102.53 829.98H1110.72M1188.5 748.28V845.49M1184.41 780.49H1192.59M1184.41 809.71H1192.59M1270.38 727.41V826.4M1266.28 759.02H1274.47M1266.28 795.39H1274.47" stroke="#E69F00" stroke-width="2.7" fill="none"/>
<path d="M1106.62 808.22L1188.5 794.2L1270.38 776.91" stroke="#E69F00" stroke-width="5" fill="none" stroke-linejoin="round"/>
<path d="M1115.03 776.31V839.52M1110.93 782.28H1119.12M1110.93 832.37H1119.12M1196.9 811.5V871.13M1192.81 820.44H1200.99M1192.81 863.38H1200.99M1278.78 827V880.07M1274.68 827H1282.87M1274.68 880.07H1282.87" stroke="#56B4E9" stroke-width="2.7" fill="none"/>
<path d="M1115.03 807.32L1196.9 842.5L1278.78 853.24" stroke="#56B4E9" stroke-width="5" fill="none" stroke-linejoin="round"/>
<circle cx="1106.62" cy="808.22" r="8.9" fill="#E69F00" stroke="#000" stroke-width="1.5"/>
<circle cx="1188.5" cy="794.2" r="8.9" fill="#E69F00" stroke="#000" stroke-width="1.5"/>
<circle cx="1270.38" cy="776.91" r="8.9" fill="#E69F00" stroke="#000" stroke-width="1.5"/>
<rect x="1106.73" y="799.02" width="16.6" height="16.6" fill="#56B4E9" stroke="#000" stroke-width="1.5"/>
<rect x="1188.6" y="834.21" width="16.6" height="16.6" fill="#56B4E9" stroke="#000" stroke-width="1.5"/>
<rect x="1270.48" y="844.94" width="16.6" height="16.6" fill="#56B4E9" stroke="#000" stroke-width="1.5"/>
<rect x="1061.5" y="565.3" width="262" height="393.4" fill="none" stroke="#767676" stroke-width="1.5"/>
<path d="M1056.5 940.9H1061.5M1056.5 821.63H1061.5M1056.5 702.37H1061.5M1056.5 583.1H1061.5M1110.62 958.7V963.7M1192.5 958.7V963.7M1274.38 958.7V963.7" stroke="#555" stroke-width="1.3"/>
<text x="1050.8" y="949.2" text-anchor="end" font-size="21.7">0</text>
<text x="1050.8" y="829.93" text-anchor="end" font-size="21.7">20</text>
<text x="1050.8" y="710.67" text-anchor="end" font-size="21.7">40</text>
<text x="1050.8" y="591.4" text-anchor="end" font-size="21.7">60</text>
<text x="1110.62" y="983" text-anchor="middle" font-size="18.8">Pre-test</text>
<text x="1192.5" y="983" text-anchor="middle" font-size="18.8">Post-test</text>
<text x="1274.38" y="983" text-anchor="middle" font-size="18.8">Follow-up</text>
<text x="1192.5" y="1013.9" text-anchor="middle" font-size="29.4" font-weight="bold">Session</text>
<text x="1192.5" y="546.9" text-anchor="middle" font-size="36.7" font-weight="bold">NTP 0-20</text>
<text transform="translate(1015 762.9) rotate(-90)" text-anchor="middle" font-size="29.4" font-weight="bold"></text>
<path d="M69.3 1446.6H651.8M69.3 1352.97H651.8M69.3 1259.33H651.8M69.3 1165.7H651.8M178.52 1086.2V1474.2M360.55 1086.2V1474.2M542.58 1086.2V1474.2" stroke="#D4D4D4" stroke-width="1.1" fill="none"/>
<path d="M169.52 1165.7L351.55 1155.4L533.58 1103.9M169.52 1196.6L351.55 1301.47L533.58 1248.1M169.52 1227.5L351.55 1395.1L533.58 1311.77M169.52 1248.1L351.55 1155.4L533.58 1186.3M169.52 1258.4L351.55 1197.54L533.58 1206.9M169.52 1268.7L351.55 1291.17L533.58 1352.97M169.52 1300.53L351.55 1310.83L533.58 1176.94M169.52 1362.33L351.55 1322.07L533.58 1321.13M169.52 1373.57L351.55 1373.57L533.58 1383.87M169.52 1383.87L351.55 1301.47L533.58 1395.1M169.52 1334.24L351.55 1322.07L533.58 1383.87" stroke="#E69F00" stroke-opacity="0.25" stroke-width="2.5" fill="none"/>
<g fill="none" stroke="#E69F00" stroke-opacity="0.3" stroke-width="1.2"><circle cx="169.52" cy="1165.7" r="4.6"/><circle cx="351.55" cy="1155.4" r="4.6"/><circle cx="533.58" cy="1103.9" r="4.6"/><circle cx="169.52" cy="1196.6" r="4.6"/><circle cx="351.55" cy="1301.47" r="4.6"/><circle cx="533.58" cy="1248.1" r="4.6"/><circle cx="169.52" cy="1227.5" r="4.6"/><circle cx="351.55" cy="1395.1" r="4.6"/><circle cx="533.58" cy="1311.77" r="4.6"/><circle cx="169.52" cy="1248.1" r="4.6"/><circle cx="351.55" cy="1155.4" r="4.6"/><circle cx="533.58" cy="1186.3" r="4.6"/><circle cx="169.52" cy="1258.4" r="4.6"/><circle cx="351.55" cy="1197.54" r="4.6"/><circle cx="533.58" cy="1206.9" r="4.6"/><circle cx="169.52" cy="1268.7" r="4.6"/><circle cx="351.55" cy="1291.17" r="4.6"/><circle cx="533.58" cy="1352.97" r="4.6"/><circle cx="169.52" cy="1300.53" r="4.6"/><circle cx="351.55" cy="1310.83" r="4.6"/><circle cx="533.58" cy="1176.94" r="4.6"/><circle cx="169.52" cy="1362.33" r="4.6"/><circle cx="351.55" cy="1322.07" r="4.6"/><circle cx="533.58" cy="1321.13" r="4.6"/><circle cx="169.52" cy="1373.57" r="4.6"/><circle cx="351.55" cy="1373.57" r="4.6"/><circle cx="533.58" cy="1383.87" r="4.6"/><circle cx="169.52" cy="1383.87" r="4.6"/><circle cx="351.55" cy="1301.47" r="4.6"/><circle cx="533.58" cy="1395.1" r="4.6"/><circle cx="169.52" cy="1334.24" r="4.6"/><circle cx="351.55" cy="1322.07" r="4.6"/><circle cx="533.58" cy="1383.87" r="4.6"/></g>
<path d="M187.52 1217.2L369.55 1282.74L551.58 1291.17M187.52 1268.7L369.55 1193.79L551.58 1156.34M187.52 1282.74L369.55 1184.43L551.58 1415.7M187.52 1310.83L369.55 1268.7L551.58 1176.94M187.52 1405.4L369.55 1176.94L551.58 1216.26M187.52 1426L369.55 1205.03L551.58 1165.7M187.52 1445.66L369.55 1282.74L551.58 1352.97M187.52 1456.9L369.55 1322.07L551.58 1263.08M187.52 1278.06L369.55 1259.33L551.58 1103.9M187.52 1296.79L369.55 1240.61L551.58 1202.22" stroke="#56B4E9" stroke-opacity="0.25" stroke-width="2.5" fill="none"/>
<g fill="none" stroke="#56B4E9" stroke-opacity="0.3" stroke-width="1.2"><rect x="182.92" y="1212.6" width="9.2" height="9.2"/><rect x="364.95" y="1278.14" width="9.2" height="9.2"/><rect x="546.98" y="1286.57" width="9.2" height="9.2"/><rect x="182.92" y="1264.1" width="9.2" height="9.2"/><rect x="364.95" y="1189.19" width="9.2" height="9.2"/><rect x="546.98" y="1151.74" width="9.2" height="9.2"/><rect x="182.92" y="1278.14" width="9.2" height="9.2"/><rect x="364.95" y="1179.83" width="9.2" height="9.2"/><rect x="546.98" y="1411.1" width="9.2" height="9.2"/><rect x="182.92" y="1306.23" width="9.2" height="9.2"/><rect x="364.95" y="1264.1" width="9.2" height="9.2"/><rect x="546.98" y="1172.34" width="9.2" height="9.2"/><rect x="182.92" y="1400.8" width="9.2" height="9.2"/><rect x="364.95" y="1172.34" width="9.2" height="9.2"/><rect x="546.98" y="1211.66" width="9.2" height="9.2"/><rect x="182.92" y="1421.4" width="9.2" height="9.2"/><rect x="364.95" y="1200.43" width="9.2" height="9.2"/><rect x="546.98" y="1161.1" width="9.2" height="9.2"/><rect x="182.92" y="1441.06" width="9.2" height="9.2"/><rect x="364.95" y="1278.14" width="9.2" height="9.2"/><rect x="546.98" y="1348.37" width="9.2" height="9.2"/><rect x="182.92" y="1452.3" width="9.2" height="9.2"/><rect x="364.95" y="1317.47" width="9.2" height="9.2"/><rect x="546.98" y="1258.48" width="9.2" height="9.2"/><rect x="182.92" y="1273.46" width="9.2" height="9.2"/><rect x="364.95" y="1254.73" width="9.2" height="9.2"/><rect x="546.98" y="1099.3" width="9.2" height="9.2"/><rect x="182.92" y="1292.19" width="9.2" height="9.2"/><rect x="364.95" y="1236.01" width="9.2" height="9.2"/><rect x="546.98" y="1197.62" width="9.2" height="9.2"/></g>
<path d="M170.02 1225.63V1332.37M160.92 1238.73H179.12M160.92 1319.26H179.12M352.05 1219.07V1337.05M342.95 1236.86H361.15M342.95 1319.26H361.15M534.08 1199.41V1337.99M524.98 1240.61H543.18M524.98 1297.72H543.18" stroke="#E69F00" stroke-width="2.7" fill="none"/>
<path d="M170.02 1279L352.05 1278.06L534.08 1268.7" stroke="#E69F00" stroke-width="5" fill="none" stroke-linejoin="round"/>
<path d="M186.32 1288.36V1370.76M177.22 1291.17H195.42M177.22 1367.01H195.42M368.35 1214.39V1278.06M359.25 1214.39H377.45M359.25 1278.06H377.45M550.38 1193.79V1289.3M541.28 1200.34H559.48M541.28 1280.87H559.48" stroke="#56B4E9" stroke-width="2.7" fill="none"/>
<path d="M186.32 1329.56L368.35 1246.22L550.38 1240.61" stroke="#56B4E9" stroke-width="5" fill="none" stroke-linejoin="round"/>
<circle cx="170.02" cy="1279" r="8.9" fill="#E69F00" stroke="#000" stroke-width="1.5"/>
<circle cx="352.05" cy="1278.06" r="8.9" fill="#E69F00" stroke="#000" stroke-width="1.5"/>
<circle cx="534.08" cy="1268.7" r="8.9" fill="#E69F00" stroke="#000" stroke-width="1.5"/>
<rect x="178.02" y="1321.26" width="16.6" height="16.6" fill="#56B4E9" stroke="#000" stroke-width="1.5"/>
<rect x="360.05" y="1237.92" width="16.6" height="16.6" fill="#56B4E9" stroke="#000" stroke-width="1.5"/>
<rect x="542.08" y="1232.31" width="16.6" height="16.6" fill="#56B4E9" stroke="#000" stroke-width="1.5"/>
<rect x="69.3" y="1086.2" width="582.5" height="388" fill="none" stroke="#767676" stroke-width="1.5"/>
<path d="M64.3 1446.6H69.3M64.3 1352.97H69.3M64.3 1259.33H69.3M64.3 1165.7H69.3M178.52 1474.2V1479.2M360.55 1474.2V1479.2M542.58 1474.2V1479.2" stroke="#555" stroke-width="1.3"/>
<text x="58.6" y="1456.1" text-anchor="end" font-size="24">40</text>
<text x="58.6" y="1362.47" text-anchor="end" font-size="24">50</text>
<text x="58.6" y="1268.83" text-anchor="end" font-size="24">60</text>
<text x="58.6" y="1175.2" text-anchor="end" font-size="24">70</text>
<text x="178.52" y="1502" text-anchor="middle" font-size="24">Pre-test</text>
<text x="360.55" y="1502" text-anchor="middle" font-size="24">Post-test</text>
<text x="542.58" y="1502" text-anchor="middle" font-size="24">Follow-up</text>
<text x="360.55" y="1535.4" text-anchor="middle" font-size="29.4" font-weight="bold">Session</text>
<text x="360.55" y="1067.8" text-anchor="middle" font-size="36.7" font-weight="bold">Match-to-sample</text>
<text transform="translate(21.7 1281.1) rotate(-90)" text-anchor="middle" font-size="29.4" font-weight="bold">Percentage of correct responses</text>
<path d="M754.6 1412.1H1323.5M754.6 1309.4H1323.5M754.6 1206.7H1323.5M754.6 1104H1323.5M861.27 1086.2V1474.2M1039.05 1086.2V1474.2M1216.83 1086.2V1474.2" stroke="#D4D4D4" stroke-width="1.1" fill="none"/>
<path d="M852.27 1104L1030.05 1104L1207.83 1104M852.27 1123.56L1030.05 1123.56L1207.83 1104M852.27 1162.69L1030.05 1217.46L1207.83 1182.25M852.27 1260.5L1030.05 1280.06L1207.83 1338.74M852.27 1201.81L1030.05 1182.25L1207.83 1280.06M852.27 1280.06L1030.05 1260.5L1207.83 1260.5M852.27 1319.18L1030.05 1319.18L1207.83 1319.18M852.27 1328.96L1030.05 1358.3L1207.83 1397.43M852.27 1338.74L1030.05 1358.3L1207.83 1338.74M852.27 1416.99L1030.05 1456.11L1207.83 1436.55M852.27 1436.55L1030.05 1416.99L1207.83 1416.99M1030.05 1104L1207.83 1123.56" stroke="#E69F00" stroke-opacity="0.25" stroke-width="2.5" fill="none"/>
<g fill="none" stroke="#E69F00" stroke-opacity="0.3" stroke-width="1.2"><circle cx="852.27" cy="1104" r="4.6"/><circle cx="1030.05" cy="1104" r="4.6"/><circle cx="1207.83" cy="1104" r="4.6"/><circle cx="852.27" cy="1123.56" r="4.6"/><circle cx="1030.05" cy="1123.56" r="4.6"/><circle cx="1207.83" cy="1104" r="4.6"/><circle cx="852.27" cy="1162.69" r="4.6"/><circle cx="1030.05" cy="1217.46" r="4.6"/><circle cx="1207.83" cy="1182.25" r="4.6"/><circle cx="852.27" cy="1260.5" r="4.6"/><circle cx="1030.05" cy="1280.06" r="4.6"/><circle cx="1207.83" cy="1338.74" r="4.6"/><circle cx="852.27" cy="1201.81" r="4.6"/><circle cx="1030.05" cy="1182.25" r="4.6"/><circle cx="1207.83" cy="1280.06" r="4.6"/><circle cx="852.27" cy="1280.06" r="4.6"/><circle cx="1030.05" cy="1260.5" r="4.6"/><circle cx="1207.83" cy="1260.5" r="4.6"/><circle cx="852.27" cy="1319.18" r="4.6"/><circle cx="1030.05" cy="1319.18" r="4.6"/><circle cx="1207.83" cy="1319.18" r="4.6"/><circle cx="852.27" cy="1328.96" r="4.6"/><circle cx="1030.05" cy="1358.3" r="4.6"/><circle cx="1207.83" cy="1397.43" r="4.6"/><circle cx="852.27" cy="1338.74" r="4.6"/><circle cx="1030.05" cy="1358.3" r="4.6"/><circle cx="1207.83" cy="1338.74" r="4.6"/><circle cx="852.27" cy="1416.99" r="4.6"/><circle cx="1030.05" cy="1456.11" r="4.6"/><circle cx="1207.83" cy="1436.55" r="4.6"/><circle cx="852.27" cy="1436.55" r="4.6"/><circle cx="1030.05" cy="1416.99" r="4.6"/><circle cx="1207.83" cy="1416.99" r="4.6"/><circle cx="1030.05" cy="1104" r="4.6"/><circle cx="1207.83" cy="1123.56" r="4.6"/></g>
<path d="M870.27 1104L1048.05 1104L1225.83 1104M870.27 1104L1048.05 1162.69L1225.83 1162.69M870.27 1123.56L1048.05 1319.18L1225.83 1280.06M870.27 1299.62L1048.05 1299.62L1225.83 1338.74M870.27 1299.62L1048.05 1201.81L1225.83 1260.5M870.27 1338.74L1048.05 1338.74L1225.83 1358.3M870.27 1377.87L1048.05 1319.18L1225.83 1319.18M870.27 1397.43L1048.05 1319.18L1225.83 1338.74M870.27 1416.99L1048.05 1338.74L1225.83 1358.3M870.27 1416.99L1048.05 1358.3L1225.83 1162.69" stroke="#56B4E9" stroke-opacity="0.25" stroke-width="2.5" fill="none"/>
<g fill="none" stroke="#56B4E9" stroke-opacity="0.3" stroke-width="1.2"><rect x="865.67" y="1099.4" width="9.2" height="9.2"/><rect x="1043.45" y="1099.4" width="9.2" height="9.2"/><rect x="1221.23" y="1099.4" width="9.2" height="9.2"/><rect x="865.67" y="1099.4" width="9.2" height="9.2"/><rect x="1043.45" y="1158.09" width="9.2" height="9.2"/><rect x="1221.23" y="1158.09" width="9.2" height="9.2"/><rect x="865.67" y="1118.96" width="9.2" height="9.2"/><rect x="1043.45" y="1314.58" width="9.2" height="9.2"/><rect x="1221.23" y="1275.46" width="9.2" height="9.2"/><rect x="865.67" y="1295.02" width="9.2" height="9.2"/><rect x="1043.45" y="1295.02" width="9.2" height="9.2"/><rect x="1221.23" y="1334.14" width="9.2" height="9.2"/><rect x="865.67" y="1295.02" width="9.2" height="9.2"/><rect x="1043.45" y="1197.21" width="9.2" height="9.2"/><rect x="1221.23" y="1255.9" width="9.2" height="9.2"/><rect x="865.67" y="1334.14" width="9.2" height="9.2"/><rect x="1043.45" y="1334.14" width="9.2" height="9.2"/><rect x="1221.23" y="1353.7" width="9.2" height="9.2"/><rect x="865.67" y="1373.27" width="9.2" height="9.2"/><rect x="1043.45" y="1314.58" width="9.2" height="9.2"/><rect x="1221.23" y="1314.58" width="9.2" height="9.2"/><rect x="865.67" y="1392.83" width="9.2" height="9.2"/><rect x="1043.45" y="1314.58" width="9.2" height="9.2"/><rect x="1221.23" y="1334.14" width="9.2" height="9.2"/><rect x="865.67" y="1412.39" width="9.2" height="9.2"/><rect x="1043.45" y="1334.14" width="9.2" height="9.2"/><rect x="1221.23" y="1353.7" width="9.2" height="9.2"/><rect x="865.67" y="1412.39" width="9.2" height="9.2"/><rect x="1043.45" y="1353.7" width="9.2" height="9.2"/><rect x="1221.23" y="1158.09" width="9.2" height="9.2"/></g>
<path d="M852.77 1147.54V1265.03M843.88 1199.31H861.66M843.88 1214.09H861.66M1030.55 1149.6V1273.66M1021.66 1200.95H1039.44M1021.66 1221.9H1039.44M1208.33 1154.94V1280.23M1199.44 1206.29H1217.22M1199.44 1229.29H1217.22" stroke="#E69F00" stroke-width="2.7" fill="none"/>
<path d="M852.77 1206.7L1030.55 1211.22L1208.33 1217.79" stroke="#E69F00" stroke-width="5" fill="none" stroke-linejoin="round"/>
<path d="M869.07 1160.69V1315.97M860.18 1203.41H877.96M860.18 1272.43H877.96M1046.85 1167.26V1289.68M1037.96 1208.75H1055.74M1037.96 1246.96H1055.74M1224.63 1171.78V1299.13M1215.74 1216.15H1233.52M1215.74 1254.35H1233.52" stroke="#56B4E9" stroke-width="2.7" fill="none"/>
<path d="M869.07 1237.92L1046.85 1227.65L1224.63 1235.05" stroke="#56B4E9" stroke-width="5" fill="none" stroke-linejoin="round"/>
<circle cx="852.77" cy="1206.7" r="8.9" fill="#E69F00" stroke="#000" stroke-width="1.5"/>
<circle cx="1030.55" cy="1211.22" r="8.9" fill="#E69F00" stroke="#000" stroke-width="1.5"/>
<circle cx="1208.33" cy="1217.79" r="8.9" fill="#E69F00" stroke="#000" stroke-width="1.5"/>
<rect x="860.77" y="1229.62" width="16.6" height="16.6" fill="#56B4E9" stroke="#000" stroke-width="1.5"/>
<rect x="1038.55" y="1219.35" width="16.6" height="16.6" fill="#56B4E9" stroke="#000" stroke-width="1.5"/>
<rect x="1216.33" y="1226.75" width="16.6" height="16.6" fill="#56B4E9" stroke="#000" stroke-width="1.5"/>
<rect x="754.6" y="1086.2" width="568.9" height="388" fill="none" stroke="#767676" stroke-width="1.5"/>
<path d="M749.6 1412.1H754.6M749.6 1309.4H754.6M749.6 1206.7H754.6M749.6 1104H754.6M861.27 1474.2V1479.2M1039.05 1474.2V1479.2M1216.83 1474.2V1479.2" stroke="#555" stroke-width="1.3"/>
<text x="743.9" y="1421.6" text-anchor="end" font-size="24">25</text>
<text x="743.9" y="1318.9" text-anchor="end" font-size="24">50</text>
<text x="743.9" y="1216.2" text-anchor="end" font-size="24">75</text>
<text x="743.9" y="1113.5" text-anchor="end" font-size="24">100</text>
<text x="861.27" y="1502" text-anchor="middle" font-size="24">Pre-test</text>
<text x="1039.05" y="1502" text-anchor="middle" font-size="24">Post-test</text>
<text x="1216.83" y="1502" text-anchor="middle" font-size="24">Follow-up</text>
<text x="1039.05" y="1535.4" text-anchor="middle" font-size="29.4" font-weight="bold">Session</text>
<text x="1039.05" y="1067.8" text-anchor="middle" font-size="36.7" font-weight="bold">Naming</text>
<text transform="translate(694.5 1281.1) rotate(-90)" text-anchor="middle" font-size="29.4" font-weight="bold">Percentage of correct responses</text>
<path d="M82.5 1910.2H651.8M82.5 1815H651.8M82.5 1719.8H651.8M82.5 1624.6H651.8M189.24 1607.3V1995.3M367.15 1607.3V1995.3M545.06 1607.3V1995.3" stroke="#D4D4D4" stroke-width="1.1" fill="none"/>
<path d="M180.24 1624.6L358.15 1624.6L536.06 1624.6M180.24 1651.8L358.15 1624.6L536.06 1651.8M180.24 1651.8L358.15 1679L536.06 1624.6M180.24 1679L358.15 1733.4L536.06 1760.6M180.24 1706.2L358.15 1624.6L536.06 1679M180.24 1760.6L358.15 1651.8L536.06 1624.6M180.24 1787.8L358.15 1869.4L536.06 1923.8M180.24 1869.4L358.15 1978.2L536.06 1815M180.24 1896.6L358.15 1869.4L536.06 1787.8M180.24 1896.6L358.15 1706.2L536.06 1733.4M180.24 1733.4L358.15 1733.4L536.06 1760.6M180.24 1651.8L358.15 1651.8L536.06 1651.8M180.24 1624.6L358.15 1679L536.06 1624.6M180.24 1679L358.15 1624.6L536.06 1706.2M180.24 1651.8L358.15 1624.6L536.06 1679" stroke="#E69F00" stroke-opacity="0.25" stroke-width="2.5" fill="none"/>
<g fill="none" stroke="#E69F00" stroke-opacity="0.3" stroke-width="1.2"><circle cx="180.24" cy="1624.6" r="4.6"/><circle cx="358.15" cy="1624.6" r="4.6"/><circle cx="536.06" cy="1624.6" r="4.6"/><circle cx="180.24" cy="1651.8" r="4.6"/><circle cx="358.15" cy="1624.6" r="4.6"/><circle cx="536.06" cy="1651.8" r="4.6"/><circle cx="180.24" cy="1651.8" r="4.6"/><circle cx="358.15" cy="1679" r="4.6"/><circle cx="536.06" cy="1624.6" r="4.6"/><circle cx="180.24" cy="1679" r="4.6"/><circle cx="358.15" cy="1733.4" r="4.6"/><circle cx="536.06" cy="1760.6" r="4.6"/><circle cx="180.24" cy="1706.2" r="4.6"/><circle cx="358.15" cy="1624.6" r="4.6"/><circle cx="536.06" cy="1679" r="4.6"/><circle cx="180.24" cy="1760.6" r="4.6"/><circle cx="358.15" cy="1651.8" r="4.6"/><circle cx="536.06" cy="1624.6" r="4.6"/><circle cx="180.24" cy="1787.8" r="4.6"/><circle cx="358.15" cy="1869.4" r="4.6"/><circle cx="536.06" cy="1923.8" r="4.6"/><circle cx="180.24" cy="1869.4" r="4.6"/><circle cx="358.15" cy="1978.2" r="4.6"/><circle cx="536.06" cy="1815" r="4.6"/><circle cx="180.24" cy="1896.6" r="4.6"/><circle cx="358.15" cy="1869.4" r="4.6"/><circle cx="536.06" cy="1787.8" r="4.6"/><circle cx="180.24" cy="1896.6" r="4.6"/><circle cx="358.15" cy="1706.2" r="4.6"/><circle cx="536.06" cy="1733.4" r="4.6"/><circle cx="180.24" cy="1733.4" r="4.6"/><circle cx="358.15" cy="1733.4" r="4.6"/><circle cx="536.06" cy="1760.6" r="4.6"/><circle cx="180.24" cy="1651.8" r="4.6"/><circle cx="358.15" cy="1651.8" r="4.6"/><circle cx="536.06" cy="1651.8" r="4.6"/><circle cx="180.24" cy="1624.6" r="4.6"/><circle cx="358.15" cy="1679" r="4.6"/><circle cx="536.06" cy="1624.6" r="4.6"/><circle cx="180.24" cy="1679" r="4.6"/><circle cx="358.15" cy="1624.6" r="4.6"/><circle cx="536.06" cy="1706.2" r="4.6"/><circle cx="180.24" cy="1651.8" r="4.6"/><circle cx="358.15" cy="1624.6" r="4.6"/><circle cx="536.06" cy="1679" r="4.6"/></g>
<path d="M198.24 1651.8L376.15 1651.8L554.06 1651.8M198.24 1651.8L376.15 1706.2L554.06 1679M198.24 1679L376.15 1624.6L554.06 1624.6M198.24 1706.2L376.15 1624.6L554.06 1706.2M198.24 1733.4L376.15 1733.4L554.06 1733.4M198.24 1760.6L376.15 1651.8L554.06 1651.8M198.24 1775.83L376.15 1706.2L554.06 1706.2M198.24 1799.5L376.15 1787.8L554.06 1706.2M198.24 1896.6L376.15 1733.4L554.06 1733.4M198.24 1651.8L376.15 1624.6L554.06 1624.6M198.24 1679L376.15 1651.8L554.06 1706.2M198.24 1706.2L376.15 1706.2L554.06 1706.2" stroke="#56B4E9" stroke-opacity="0.25" stroke-width="2.5" fill="none"/>
<g fill="none" stroke="#56B4E9" stroke-opacity="0.3" stroke-width="1.2"><rect x="193.64" y="1647.2" width="9.2" height="9.2"/><rect x="371.55" y="1647.2" width="9.2" height="9.2"/><rect x="549.46" y="1647.2" width="9.2" height="9.2"/><rect x="193.64" y="1647.2" width="9.2" height="9.2"/><rect x="371.55" y="1701.6" width="9.2" height="9.2"/><rect x="549.46" y="1674.4" width="9.2" height="9.2"/><rect x="193.64" y="1674.4" width="9.2" height="9.2"/><rect x="371.55" y="1620" width="9.2" height="9.2"/><rect x="549.46" y="1620" width="9.2" height="9.2"/><rect x="193.64" y="1701.6" width="9.2" height="9.2"/><rect x="371.55" y="1620" width="9.2" height="9.2"/><rect x="549.46" y="1701.6" width="9.2" height="9.2"/><rect x="193.64" y="1728.8" width="9.2" height="9.2"/><rect x="371.55" y="1728.8" width="9.2" height="9.2"/><rect x="549.46" y="1728.8" width="9.2" height="9.2"/><rect x="193.64" y="1756" width="9.2" height="9.2"/><rect x="371.55" y="1647.2" width="9.2" height="9.2"/><rect x="549.46" y="1647.2" width="9.2" height="9.2"/><rect x="193.64" y="1771.23" width="9.2" height="9.2"/><rect x="371.55" y="1701.6" width="9.2" height="9.2"/><rect x="549.46" y="1701.6" width="9.2" height="9.2"/><rect x="193.64" y="1794.9" width="9.2" height="9.2"/><rect x="371.55" y="1783.2" width="9.2" height="9.2"/><rect x="549.46" y="1701.6" width="9.2" height="9.2"/><rect x="193.64" y="1892" width="9.2" height="9.2"/><rect x="371.55" y="1728.8" width="9.2" height="9.2"/><rect x="549.46" y="1728.8" width="9.2" height="9.2"/><rect x="193.64" y="1647.2" width="9.2" height="9.2"/><rect x="371.55" y="1620" width="9.2" height="9.2"/><rect x="549.46" y="1620" width="9.2" height="9.2"/><rect x="193.64" y="1674.4" width="9.2" height="9.2"/><rect x="371.55" y="1647.2" width="9.2" height="9.2"/><rect x="549.46" y="1701.6" width="9.2" height="9.2"/><rect x="193.64" y="1701.6" width="9.2" height="9.2"/><rect x="371.55" y="1701.6" width="9.2" height="9.2"/><rect x="549.46" y="1701.6" width="9.2" height="9.2"/></g>
<path d="M180.74 1673.34V1773.87M171.85 1699.24H189.64M171.85 1747.98H189.64M358.65 1659.25V1767.4M349.75 1689.34H367.55M349.75 1736.56H367.55M536.56 1664.2V1751.41M527.66 1685.15H545.45M527.66 1729.32H545.45" stroke="#E69F00" stroke-width="2.7" fill="none"/>
<path d="M180.74 1723.99L358.65 1713.33L536.56 1707.23" stroke="#E69F00" stroke-width="5" fill="none" stroke-linejoin="round"/>
<path d="M197.04 1672.58V1754.83M188.15 1684H205.94M188.15 1743.79H205.94M374.95 1652.02V1710.66M366.05 1664.96H383.85M366.05 1699.62H383.85M552.86 1662.3V1705.71M543.96 1662.3H561.75M543.96 1705.71H561.75" stroke="#56B4E9" stroke-width="2.7" fill="none"/>
<path d="M197.04 1714.09L374.95 1682.48L552.86 1684" stroke="#56B4E9" stroke-width="5" fill="none" stroke-linejoin="round"/>
<circle cx="180.74" cy="1723.99" r="8.9" fill="#E69F00" stroke="#000" stroke-width="1.5"/>
<circle cx="358.65" cy="1713.33" r="8.9" fill="#E69F00" stroke="#000" stroke-width="1.5"/>
<circle cx="536.56" cy="1707.23" r="8.9" fill="#E69F00" stroke="#000" stroke-width="1.5"/>
<rect x="188.74" y="1705.79" width="16.6" height="16.6" fill="#56B4E9" stroke="#000" stroke-width="1.5"/>
<rect x="366.65" y="1674.18" width="16.6" height="16.6" fill="#56B4E9" stroke="#000" stroke-width="1.5"/>
<rect x="544.56" y="1675.7" width="16.6" height="16.6" fill="#56B4E9" stroke="#000" stroke-width="1.5"/>
<rect x="82.5" y="1607.3" width="569.3" height="388" fill="none" stroke="#767676" stroke-width="1.5"/>
<path d="M77.5 1910.2H82.5M77.5 1815H82.5M77.5 1719.8H82.5M77.5 1624.6H82.5M189.24 1995.3V2000.3M367.15 1995.3V2000.3M545.06 1995.3V2000.3" stroke="#555" stroke-width="1.3"/>
<text x="71.8" y="1919.7" text-anchor="end" font-size="24">25</text>
<text x="71.8" y="1824.5" text-anchor="end" font-size="24">50</text>
<text x="71.8" y="1729.3" text-anchor="end" font-size="24">75</text>
<text x="71.8" y="1634.1" text-anchor="end" font-size="24">100</text>
<text x="189.24" y="2023.1" text-anchor="middle" font-size="24">Pre-test</text>
<text x="367.15" y="2023.1" text-anchor="middle" font-size="24">Post-test</text>
<text x="545.06" y="2023.1" text-anchor="middle" font-size="24">Follow-up</text>
<text x="367.15" y="2056.5" text-anchor="middle" font-size="29.4" font-weight="bold">Session</text>
<text x="367.15" y="1588.9" text-anchor="middle" font-size="36.7" font-weight="bold">Counting</text>
<text transform="translate(21.7 1802.2) rotate(-90)" text-anchor="middle" font-size="29.4" font-weight="bold">Percentage of correct responses</text>
<path d="M754.8 1979.7H1323.5M754.8 1861.33H1323.5M754.8 1742.97H1323.5M754.8 1624.6H1323.5M861.43 1607.3V1995.3M1039.15 1607.3V1995.3M1216.87 1607.3V1995.3" stroke="#D4D4D4" stroke-width="1.1" fill="none"/>
<path d="M852.43 1624.6L1030.15 1624.6L1207.87 1624.6M852.43 1632.82L1030.15 1632.82L1207.87 1641.04M852.43 1673.92L1030.15 1657.48L1207.87 1690.36M852.43 1739.68L1030.15 1731.46L1207.87 1698.58M852.43 1862.98L1030.15 1928.74L1207.87 1846.54M852.43 1854.76L1030.15 1895.86L1207.87 1846.54M852.43 1895.86L1030.15 1641.04L1207.87 1747.9M852.43 1904.08L1030.15 1854.76L1207.87 1838.32M852.43 1912.3L1030.15 1821.88L1207.87 1920.52M852.43 1920.52L1030.15 1871.2L1207.87 1813.66M852.43 1928.74L1030.15 1912.3L1207.87 1953.4M852.43 1936.96L1030.15 1945.18L1207.87 1846.54M852.43 1945.18L1030.15 1895.86L1207.87 1805.44M1030.15 1747.9L1207.87 1920.52M852.43 1912.3L1030.15 1805.44L1207.87 1805.44M852.43 1920.52L1030.15 1821.88L1207.87 1830.1" stroke="#E69F00" stroke-opacity="0.25" stroke-width="2.5" fill="none"/>
<g fill="none" stroke="#E69F00" stroke-opacity="0.3" stroke-width="1.2"><circle cx="852.43" cy="1624.6" r="4.6"/><circle cx="1030.15" cy="1624.6" r="4.6"/><circle cx="1207.87" cy="1624.6" r="4.6"/><circle cx="852.43" cy="1632.82" r="4.6"/><circle cx="1030.15" cy="1632.82" r="4.6"/><circle cx="1207.87" cy="1641.04" r="4.6"/><circle cx="852.43" cy="1673.92" r="4.6"/><circle cx="1030.15" cy="1657.48" r="4.6"/><circle cx="1207.87" cy="1690.36" r="4.6"/><circle cx="852.43" cy="1739.68" r="4.6"/><circle cx="1030.15" cy="1731.46" r="4.6"/><circle cx="1207.87" cy="1698.58" r="4.6"/><circle cx="852.43" cy="1862.98" r="4.6"/><circle cx="1030.15" cy="1928.74" r="4.6"/><circle cx="1207.87" cy="1846.54" r="4.6"/><circle cx="852.43" cy="1854.76" r="4.6"/><circle cx="1030.15" cy="1895.86" r="4.6"/><circle cx="1207.87" cy="1846.54" r="4.6"/><circle cx="852.43" cy="1895.86" r="4.6"/><circle cx="1030.15" cy="1641.04" r="4.6"/><circle cx="1207.87" cy="1747.9" r="4.6"/><circle cx="852.43" cy="1904.08" r="4.6"/><circle cx="1030.15" cy="1854.76" r="4.6"/><circle cx="1207.87" cy="1838.32" r="4.6"/><circle cx="852.43" cy="1912.3" r="4.6"/><circle cx="1030.15" cy="1821.88" r="4.6"/><circle cx="1207.87" cy="1920.52" r="4.6"/><circle cx="852.43" cy="1920.52" r="4.6"/><circle cx="1030.15" cy="1871.2" r="4.6"/><circle cx="1207.87" cy="1813.66" r="4.6"/><circle cx="852.43" cy="1928.74" r="4.6"/><circle cx="1030.15" cy="1912.3" r="4.6"/><circle cx="1207.87" cy="1953.4" r="4.6"/><circle cx="852.43" cy="1936.96" r="4.6"/><circle cx="1030.15" cy="1945.18" r="4.6"/><circle cx="1207.87" cy="1846.54" r="4.6"/><circle cx="852.43" cy="1945.18" r="4.6"/><circle cx="1030.15" cy="1895.86" r="4.6"/><circle cx="1207.87" cy="1805.44" r="4.6"/><circle cx="1030.15" cy="1747.9" r="4.6"/><circle cx="1207.87" cy="1920.52" r="4.6"/><circle cx="852.43" cy="1912.3" r="4.6"/><circle cx="1030.15" cy="1805.44" r="4.6"/><circle cx="1207.87" cy="1805.44" r="4.6"/><circle cx="852.43" cy="1920.52" r="4.6"/><circle cx="1030.15" cy="1821.88" r="4.6"/><circle cx="1207.87" cy="1830.1" r="4.6"/></g>
<path d="M870.43 1632.82L1048.15 1632.82L1225.87 1624.6M870.43 1673.92L1048.15 1641.04L1225.87 1641.04M870.43 1723.24L1048.15 1698.58L1225.87 1715.02M870.43 1739.68L1048.15 1682.14L1225.87 1673.92M870.43 1772.56L1048.15 1756.12L1225.87 1797.22M870.43 1875.31L1048.15 1904.08L1225.87 1821.88M870.43 1890.92L1048.15 1747.9L1225.87 1780.78M870.43 1904.08L1048.15 1821.88L1225.87 1813.66M870.43 1912.3L1048.15 1632.82L1225.87 1657.48M870.43 1936.96L1048.15 1789L1225.87 1805.44M870.43 1978.06L1048.15 1854.76L1225.87 1830.1M870.43 1904.08L1048.15 1756.12L1225.87 1797.22M870.43 1875.31L1048.15 1813.66L1225.87 1821.88" stroke="#56B4E9" stroke-opacity="0.25" stroke-width="2.5" fill="none"/>
<g fill="none" stroke="#56B4E9" stroke-opacity="0.3" stroke-width="1.2"><rect x="865.83" y="1628.22" width="9.2" height="9.2"/><rect x="1043.55" y="1628.22" width="9.2" height="9.2"/><rect x="1221.27" y="1620" width="9.2" height="9.2"/><rect x="865.83" y="1669.32" width="9.2" height="9.2"/><rect x="1043.55" y="1636.44" width="9.2" height="9.2"/><rect x="1221.27" y="1636.44" width="9.2" height="9.2"/><rect x="865.83" y="1718.64" width="9.2" height="9.2"/><rect x="1043.55" y="1693.98" width="9.2" height="9.2"/><rect x="1221.27" y="1710.42" width="9.2" height="9.2"/><rect x="865.83" y="1735.08" width="9.2" height="9.2"/><rect x="1043.55" y="1677.54" width="9.2" height="9.2"/><rect x="1221.27" y="1669.32" width="9.2" height="9.2"/><rect x="865.83" y="1767.96" width="9.2" height="9.2"/><rect x="1043.55" y="1751.52" width="9.2" height="9.2"/><rect x="1221.27" y="1792.62" width="9.2" height="9.2"/><rect x="865.83" y="1870.71" width="9.2" height="9.2"/><rect x="1043.55" y="1899.48" width="9.2" height="9.2"/><rect x="1221.27" y="1817.28" width="9.2" height="9.2"/><rect x="865.83" y="1886.33" width="9.2" height="9.2"/><rect x="1043.55" y="1743.3" width="9.2" height="9.2"/><rect x="1221.27" y="1776.18" width="9.2" height="9.2"/><rect x="865.83" y="1899.48" width="9.2" height="9.2"/><rect x="1043.55" y="1817.28" width="9.2" height="9.2"/><rect x="1221.27" y="1809.06" width="9.2" height="9.2"/><rect x="865.83" y="1907.7" width="9.2" height="9.2"/><rect x="1043.55" y="1628.22" width="9.2" height="9.2"/><rect x="1221.27" y="1652.88" width="9.2" height="9.2"/><rect x="865.83" y="1932.36" width="9.2" height="9.2"/><rect x="1043.55" y="1784.4" width="9.2" height="9.2"/><rect x="1221.27" y="1800.84" width="9.2" height="9.2"/><rect x="865.83" y="1973.46" width="9.2" height="9.2"/><rect x="1043.55" y="1850.16" width="9.2" height="9.2"/><rect x="1221.27" y="1825.5" width="9.2" height="9.2"/><rect x="865.83" y="1899.48" width="9.2" height="9.2"/><rect x="1043.55" y="1751.52" width="9.2" height="9.2"/><rect x="1221.27" y="1792.62" width="9.2" height="9.2"/><rect x="865.83" y="1870.71" width="9.2" height="9.2"/><rect x="1043.55" y="1809.06" width="9.2" height="9.2"/><rect x="1221.27" y="1817.28" width="9.2" height="9.2"/></g>
<path d="M852.93 1754.21V1877.9M844.05 1795.05H861.82M844.05 1836.48H861.82M1030.65 1722.25V1841.8M1021.76 1752.44H1039.54M1021.76 1811.03H1039.54M1208.37 1727.58V1832.33M1199.48 1756.58H1217.25M1199.48 1800.97H1217.25" stroke="#E69F00" stroke-width="2.7" fill="none"/>
<path d="M852.93 1815.76L1030.65 1781.44L1208.37 1780.84" stroke="#E69F00" stroke-width="5" fill="none" stroke-linejoin="round"/>
<path d="M869.23 1768.42V1889.15M860.35 1799.19H878.12M860.35 1858.37H878.12M1046.95 1697.4V1790.31M1038.06 1721.07H1055.84M1038.06 1767.23H1055.84M1224.67 1706.86V1789.13M1215.78 1731.72H1233.55M1215.78 1765.46H1233.55" stroke="#56B4E9" stroke-width="2.7" fill="none"/>
<path d="M869.23 1828.78L1046.95 1743.56L1224.67 1748.29" stroke="#56B4E9" stroke-width="5" fill="none" stroke-linejoin="round"/>
<circle cx="852.93" cy="1815.76" r="8.9" fill="#E69F00" stroke="#000" stroke-width="1.5"/>
<circle cx="1030.65" cy="1781.44" r="8.9" fill="#E69F00" stroke="#000" stroke-width="1.5"/>
<circle cx="1208.37" cy="1780.84" r="8.9" fill="#E69F00" stroke="#000" stroke-width="1.5"/>
<rect x="860.93" y="1820.48" width="16.6" height="16.6" fill="#56B4E9" stroke="#000" stroke-width="1.5"/>
<rect x="1038.65" y="1735.26" width="16.6" height="16.6" fill="#56B4E9" stroke="#000" stroke-width="1.5"/>
<rect x="1216.37" y="1739.99" width="16.6" height="16.6" fill="#56B4E9" stroke="#000" stroke-width="1.5"/>
<rect x="754.8" y="1607.3" width="568.7" height="388" fill="none" stroke="#767676" stroke-width="1.5"/>
<path d="M749.8 1979.7H754.8M749.8 1861.33H754.8M749.8 1742.97H754.8M749.8 1624.6H754.8M861.43 1995.3V2000.3M1039.15 1995.3V2000.3M1216.87 1995.3V2000.3" stroke="#555" stroke-width="1.3"/>
<text x="744.1" y="1989.2" text-anchor="end" font-size="24">40</text>
<text x="744.1" y="1870.83" text-anchor="end" font-size="24">60</text>
<text x="744.1" y="1752.47" text-anchor="end" font-size="24">80</text>
<text x="744.1" y="1634.1" text-anchor="end" font-size="24">100</text>
<text x="861.43" y="2023.1" text-anchor="middle" font-size="24">Pre-test</text>
<text x="1039.15" y="2023.1" text-anchor="middle" font-size="24">Post-test</text>
<text x="1216.87" y="2023.1" text-anchor="middle" font-size="24">Follow-up</text>
<text x="1039.15" y="2056.5" text-anchor="middle" font-size="29.4" font-weight="bold">Session</text>
<text x="1039.15" y="1588.9" text-anchor="middle" font-size="36.7" font-weight="bold">Digit comparison</text>
<text transform="translate(694.5 1802.2) rotate(-90)" text-anchor="middle" font-size="29.4" font-weight="bold">Percentage of correct responses</text>
<text x="1344.5" y="988.4" font-size="31.4" font-weight="bold">Group</text>
<path d="M1349 1030.5H1385" stroke="#E69F00" stroke-width="5.2"/>
<circle cx="1367" cy="1030.5" r="9" fill="#E69F00" stroke="#000" stroke-width="1.5"/>
<text x="1405.5" y="1040.8" font-size="26.5">Control</text>
<path d="M1349 1076H1385" stroke="#56B4E9" stroke-width="5.2"/>
<rect x="1358.3" y="1067.3" width="17.4" height="17.4" fill="#56B4E9" stroke="#000" stroke-width="1.5"/>
<text x="1405.5" y="1086.3" font-size="26.5">Training</text>
</svg></body></html>
